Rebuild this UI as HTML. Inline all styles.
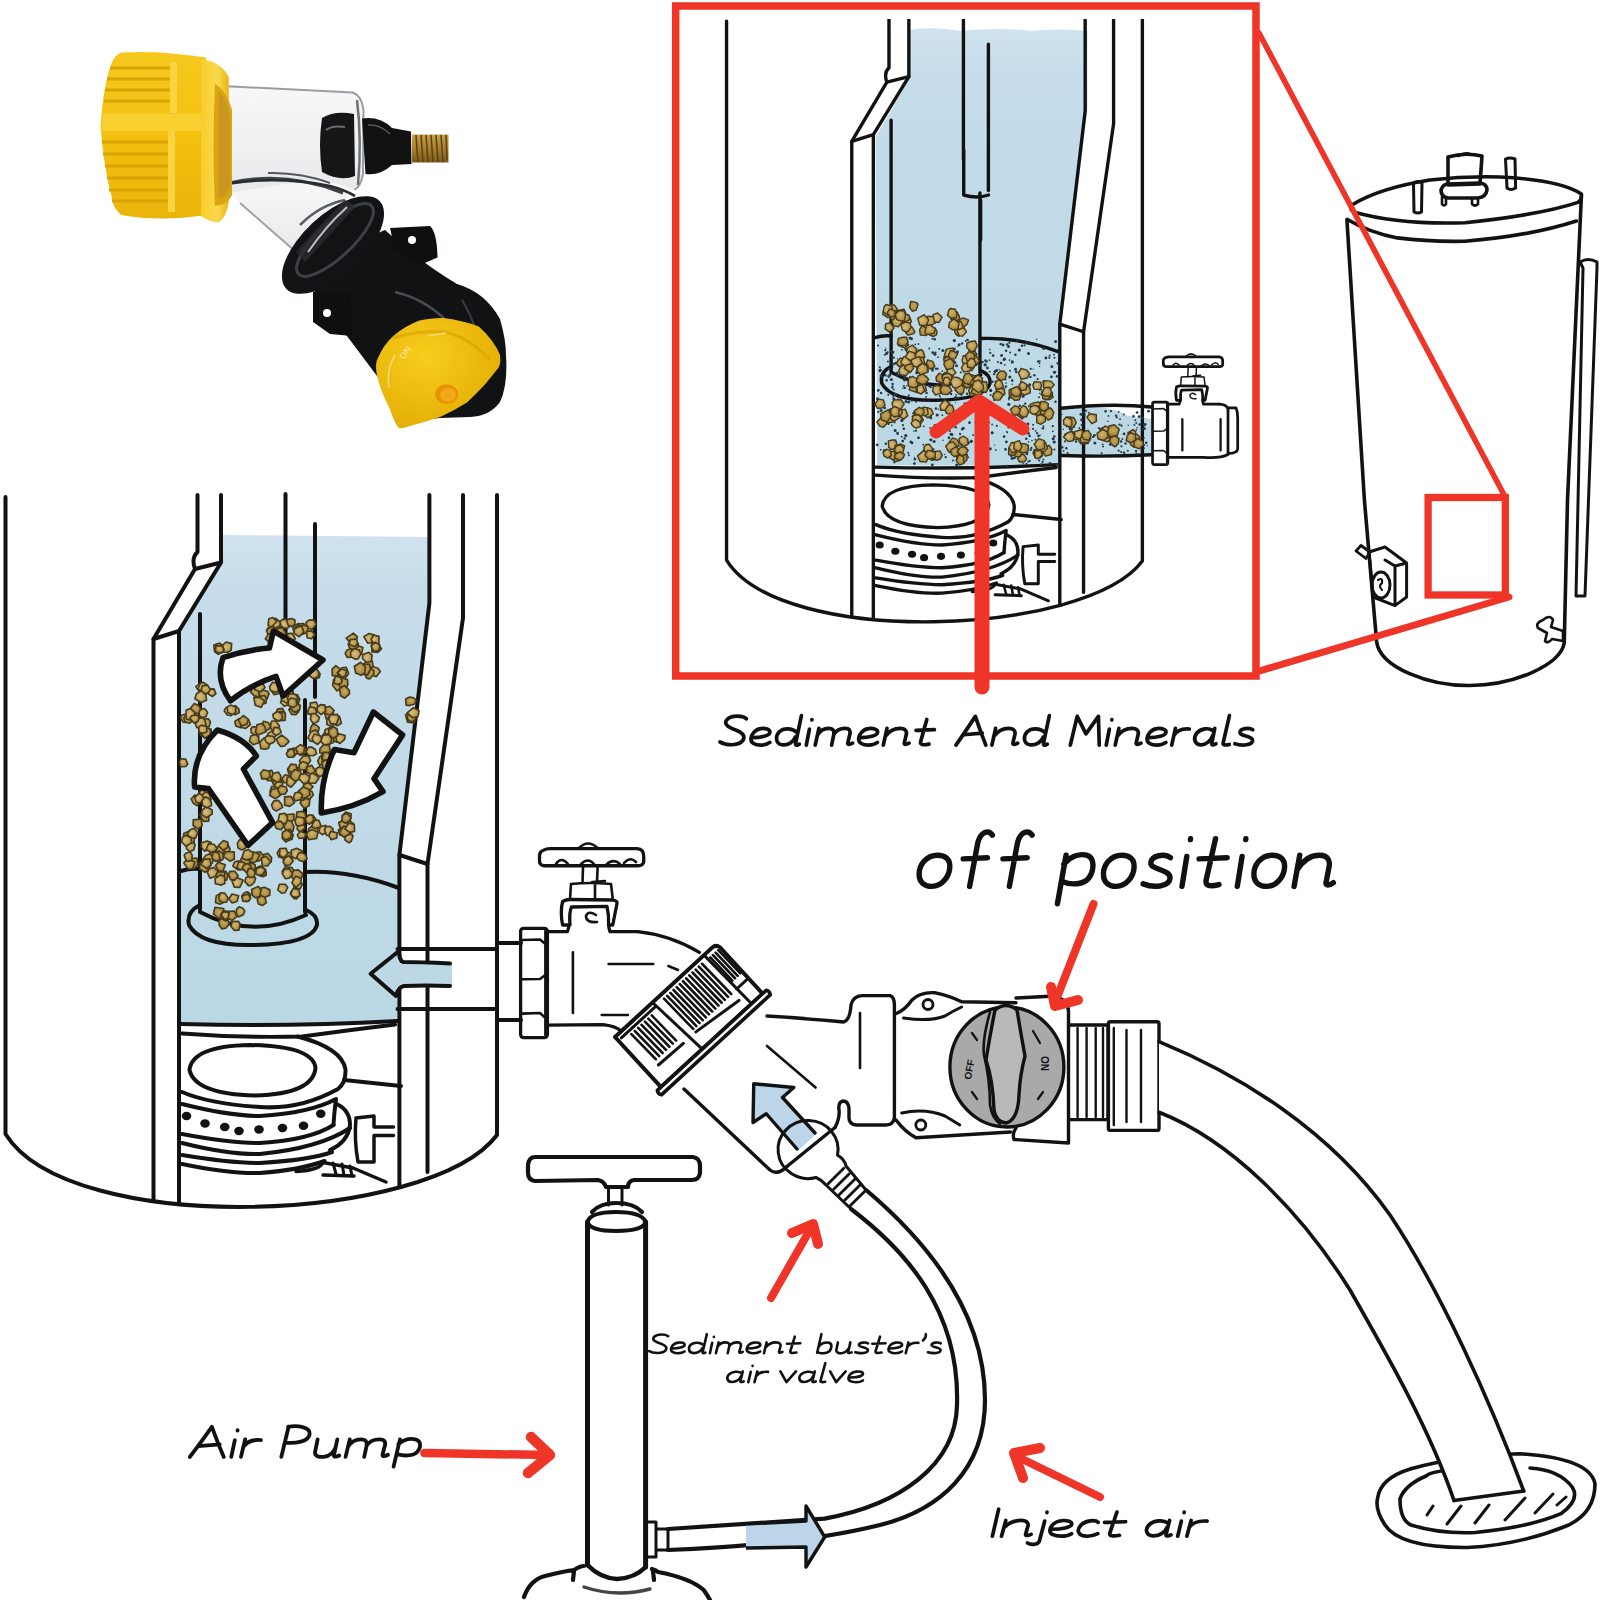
<!DOCTYPE html>
<html><head><meta charset="utf-8"><style>
html,body{margin:0;padding:0;background:#fff;width:1600px;height:1600px;overflow:hidden}
svg{display:block}
text{font-family:"Liberation Sans",sans-serif}
</style></head><body>
<svg width="1600" height="1600" viewBox="0 0 1600 1600">
<rect width="1600" height="1600" fill="#fff"/>
<defs>
<linearGradient id="waterG" x1="0" y1="0" x2="0" y2="1"><stop offset="0" stop-color="#d0e2ef"/><stop offset="0.12" stop-color="#c6dcea"/><stop offset="1" stop-color="#bad8e3"/></linearGradient>
<g id="tank">
<g stroke="#121212" fill="none" stroke-width="4" stroke-linecap="round" stroke-linejoin="round">
<path d="M5.5,497 V1134 C70,1238 430,1224 497,1135 V495"/>
<path d="M197.5,495 V552 Q191,558 195,569 L153.5,639 V1200"/>
<path d="M221,495 V562.5 L179,631 V1203"/>
<path d="M195,569 L221,562.5 M153.5,639 L179,631"/>
<path d="M285.5,494 V660"/>
<path d="M315,524 V697"/>
<path d="M305,700 V912"/>
<path d="M200,614 V910"/>
<path d="M200,905 Q186,912 189,925 Q200,946 253,945 Q312,944 317,925 Q318,915 306,910"/>
<path d="M200,912 Q252,940 306,915"/>
<path d="M181,871 Q190,868 200,869 M306,872 Q350,870 397.5,887.5"/>
<path d="M181,1024 Q290,1027 397.5,1021"/>
<path d="M429.4,495 V603 L399.4,855 V1186"/>
<path d="M463,495 V618 L427.5,864 V1172"/>
<path d="M399.4,855 L427.5,864"/>
<!-- burner -->
<path d="M182,1033.5 Q240,1038 302,1036.5 Q350,1030 395,1024.5" stroke-width="4"/>
<path d="M189.5,1070 Q192,1046 250,1045 Q313,1046 315.5,1068 Q313,1094 255,1095.5 Q195,1094 189.5,1070 Z"/>
<path d="M297.5,1036.5 Q342,1048 345.5,1069.5 Q346,1083 338,1089 Q300,1110 260,1107 Q210,1104 182,1092"/>
<path d="M182,1104 Q230,1116 260,1116 Q310,1113 336,1099 Q334,1115 333.5,1125"/>
<path d="M182,1134 Q230,1143 260,1143 Q310,1140 333.5,1125"/>
<path d="M336.5,1104 Q350,1110 350,1125 Q348,1142 330,1150"/>
<path d="M182,1143 Q230,1155 260,1154 Q320,1148 350,1128"/>
<path d="M182,1155 Q230,1163 260,1163 Q310,1160 332,1152"/>
<path d="M182,1164 Q230,1174 260,1173 Q300,1170 324.5,1161"/>
<path d="M344,1080 L401,1086"/>
<path d="M356,1118 L374,1116 V1127 H393.5 M374,1135.5 H393.5 M374,1135.5 V1162 H358 Q354,1140 356,1118" stroke-width="3.5"/>
<path d="M296,1171.5 Q320,1170 323,1162.5 L353,1168 L386,1182 M323,1175 L354,1176" stroke-width="3.5"/>
<path d="M333,1163 L336,1174 M342,1164 L344,1175 M350,1166 L352,1176" stroke-width="3"/>
</g>
<g fill="#121212">
<ellipse cx="186.5" cy="1116" rx="4.8" ry="4.2"/>
<ellipse cx="205" cy="1123.5" rx="4.8" ry="4.2"/>
<ellipse cx="224.75" cy="1127" rx="4.8" ry="4.2"/>
<ellipse cx="239" cy="1131" rx="4.8" ry="4.2"/>
<ellipse cx="259" cy="1129.5" rx="4.8" ry="4.2"/>
<ellipse cx="282.5" cy="1128" rx="4.8" ry="4.2"/>
<ellipse cx="303.5" cy="1125.75" rx="4.8" ry="4.2"/>
<ellipse cx="320.75" cy="1113.75" rx="4.8" ry="4.2"/>
</g>
</g>
<clipPath id="clipI"><rect x="676" y="19" width="578" height="654"/></clipPath>
<g id="fauctop">
<path d="M547.4,931.7 H567.4 Q569,928 568.75,925 L562.6,925 Q560,912 562.6,901.5 Q566,899.5 570,899.5 L613,900 Q618,901 616.9,904 L612.75,925 L608.6,925 Q609,929 610,931.7 H637.5"/>
<path d="M570,925 Q569,912 571.5,907 L607,906.3 Q609,915 608.6,925"/>
<path d="M570,899 L571,884 Q590,882 611,884 L612.75,899 M595,884 V898" stroke-width="2.6"/>
<path d="M582.5,883 L583,867 M597.6,867 L597,883 M592,882 L605,881" stroke-width="2.6"/>
<path d="M544,850 Q546,848.6 550,848.6 L637,848.6 Q643.7,849 643.7,856 L643.7,862 Q643,865.75 638,865.75 L544,865.75 Q539,865 539.5,860 L539.5,855 Q540,851 544,850 Z"/>
<path d="M556,864 Q561,856 568,864 M581,864 Q588,857 594,864 M606,865 Q613,858 620,864 M624,863 Q630,856 636,862" stroke-width="2.6"/>
<path d="M579,848 Q588,839 597.6,848" stroke-width="2.6"/>
<path d="M596,915 Q588,910 586,916 Q586,923 597,922" stroke-width="2.6"/>
<rect x="520.6" y="928.3" width="26.8" height="109.3" rx="3"/>
<path d="M522,940 L540,939.5 L545.4,944 M522,979.2 L540,979 L545.4,975 M522,1013.6 L540,1013 L545.4,1018 M545.4,931 V1035" stroke-width="2.6"/>
</g>
</defs>

<g id="left">
<!-- blue water -->
<path d="M222,535 L429.4,537 L429.4,603 L399.4,855 L397.5,1021 Q290,1027 181,1024 L180,631 L220,562.5 Z" fill="url(#waterG)"/>
<use href="#tank"/>
<path d="M370.6,973.75 L397.5,950 L400,963 L452,963 L452,986 L400,986 L396,996 Z" fill="#bcd8e4"/>
<g stroke="#121212" fill="none" stroke-width="4" stroke-linecap="round" stroke-linejoin="round">
<path d="M397.5,949 H497 M497,943 H521 M397.5,1009 H497 M497,1020 H521"/>
<path d="M450,963.5 Q420,962 403,962 Q399,960 399,951 L370.6,973.75 L396,996 Q398,987 404,986 Q425,985 450,986" stroke-width="4"/>
</g>
</g>

<g id="sedL"><defs><radialGradient id="bg1" cx="0.45" cy="0.4" r="0.6"><stop offset="0" stop-color="#d2b66e"/><stop offset="1" stop-color="#a8863c"/></radialGradient><radialGradient id="bg2" cx="0.5" cy="0.45" r="0.6"><stop offset="0" stop-color="#c8a85c"/><stop offset="1" stop-color="#9c7c34"/></radialGradient><radialGradient id="bg3" cx="0.4" cy="0.5" r="0.6"><stop offset="0" stop-color="#d8be7c"/><stop offset="1" stop-color="#b09048"/></radialGradient></defs><g stroke="#463a1c" stroke-width="1.6" stroke-linejoin="round">
<polygon points="288.9,619.5 290.9,624.5 288.5,627.6 285.3,628.6 281.1,626.5 279.9,621.1 283.1,619.1" fill="url(#bg3)"/>
<polygon points="272.3,636.4 267.8,633.6 267.5,628.2 271.3,626.3 276.6,629.6 277.2,634.3" fill="url(#bg1)"/>
<polygon points="266.4,630.4 271.2,626.3 274.0,627.0 276.1,632.3 272.6,635.5 267.6,633.5" fill="url(#bg2)"/>
<polygon points="291.7,626.7 288.2,625.2 286.7,621.3 287.6,619.6 291.6,618.4 295.0,620.0 294.9,624.4" fill="url(#bg2)"/>
<polygon points="290.8,642.5 286.7,639.1 287.9,633.6 291.9,633.3 295.5,638.7" fill="url(#bg3)"/>
<polygon points="274.8,634.1 277.5,628.4 282.5,627.4 285.8,633.1 284.3,637.3 279.1,639.6" fill="url(#bg2)"/>
<polygon points="298.3,634.1 293.8,631.0 292.8,626.4 298.5,623.4 303.6,625.9 303.6,632.1" fill="url(#bg3)"/>
<polygon points="273.9,641.4 269.7,642.7 265.3,638.8 268.2,634.0 273.2,633.3 274.9,636.9" fill="url(#bg2)"/>
<polygon points="271.8,619.6 275.9,618.3 280.3,622.2 279.9,626.1 274.8,628.3 271.6,623.7" fill="url(#bg3)"/>
<polygon points="312.3,629.6 307.2,627.9 306.0,622.4 308.9,620.1 313.7,619.9 316.3,624.3" fill="url(#bg1)"/>
<polygon points="302.8,633.5 297.8,630.8 296.2,627.6 299.5,623.9 303.8,623.5 307.3,628.2 306.2,630.6" fill="url(#bg3)"/>
<polygon points="276.8,621.5 271.3,627.3 268.0,625.1 268.9,618.7 273.0,617.6" fill="url(#bg1)"/>
<polygon points="307.6,632.2 302.9,634.2 299.5,630.4 300.0,627.1 303.2,624.8 308.2,626.8" fill="url(#bg2)"/>
<polygon points="301.8,626.4 303.2,630.9 301.2,634.6 295.9,634.5 293.3,629.6 297.4,625.1" fill="url(#bg2)"/>
<polygon points="307.1,637.8 306.5,631.3 311.7,630.9 314.8,634.6 311.5,638.7" fill="url(#bg3)"/>
<polygon points="299.2,636.8 293.9,633.3 294.2,628.7 301.6,625.7 303.8,632.1" fill="url(#bg1)"/>
<polygon points="221.8,645.9 226.1,642.0 231.7,643.5 231.2,650.2 227.6,652.3 222.8,652.2" fill="url(#bg3)"/>
<polygon points="214.5,651.5 213.8,644.9 219.6,643.1 222.2,645.0 223.9,649.4 222.1,652.0 218.4,654.4" fill="url(#bg1)"/>
<polygon points="221.1,653.3 215.6,651.9 215.7,645.9 222.0,645.6 224.1,650.3" fill="url(#bg1)"/>
<polygon points="367.9,669.5 363.5,664.2 368.8,660.0 372.3,660.9 373.5,668.4" fill="url(#bg3)"/>
<polygon points="371.9,651.9 371.6,643.6 377.3,643.0 381.6,648.8 377.7,652.4" fill="url(#bg1)"/>
<polygon points="372.2,655.2 371.3,661.5 366.2,662.3 362.4,658.5 362.9,654.5 368.9,652.3" fill="url(#bg3)"/>
<polygon points="378.0,668.3 380.4,671.4 376.2,676.8 371.8,675.1 369.2,670.2 372.6,666.5" fill="url(#bg3)"/>
<polygon points="367.7,643.2 363.8,636.6 369.1,633.5 374.1,634.8 371.9,642.7" fill="url(#bg3)"/>
<polygon points="366.6,678.1 363.7,672.5 365.1,667.7 369.0,667.1 373.9,670.6 373.9,674.1 369.8,678.9" fill="url(#bg2)"/>
<polygon points="353.1,649.8 356.9,645.2 362.9,647.6 361.6,654.3 355.8,655.1" fill="url(#bg1)"/>
<polygon points="350.8,648.6 354.7,652.1 351.8,657.1 347.1,657.4 345.1,653.3 346.9,650.2" fill="url(#bg2)"/>
<polygon points="349.9,642.4 346.2,638.2 353.4,633.1 357.4,636.9 355.3,643.2" fill="url(#bg2)"/>
<polygon points="353.9,649.9 349.5,648.1 348.1,643.8 354.0,640.6 358.4,643.9 357.8,647.2" fill="url(#bg2)"/>
<polygon points="373.5,635.0 379.0,636.4 379.0,643.3 374.6,644.9 371.0,639.4" fill="url(#bg3)"/>
<polygon points="367.5,675.0 363.9,674.2 359.6,670.1 362.6,664.2 369.6,664.1 370.7,669.0" fill="url(#bg2)"/>
<polygon points="380.0,645.2 378.8,651.0 373.8,651.1 371.0,646.1 375.1,642.1" fill="url(#bg1)"/>
<polygon points="365.4,666.9 364.8,673.0 361.2,675.2 355.6,673.0 354.3,666.2 360.8,662.3" fill="url(#bg2)"/>
<polygon points="350.3,639.6 356.5,639.0 357.8,643.9 354.7,646.8 349.0,644.5" fill="url(#bg1)"/>
<polygon points="359.2,650.1 361.0,653.8 358.2,658.8 355.4,659.4 350.8,656.8 350.4,652.2 354.0,648.6" fill="url(#bg3)"/>
<polygon points="332.1,669.1 335.8,665.6 339.5,668.4 340.4,672.6 336.9,676.3 332.2,675.6" fill="url(#bg2)"/>
<polygon points="343.6,682.2 341.2,688.3 336.9,690.9 332.6,685.2 333.6,679.5 339.2,678.8" fill="url(#bg1)"/>
<polygon points="338.5,683.4 341.3,677.8 347.6,679.6 347.9,684.6 346.3,688.1 340.1,687.0" fill="url(#bg2)"/>
<polygon points="348.7,673.5 344.9,678.8 340.0,677.1 337.1,672.9 341.9,667.8 346.2,667.3" fill="url(#bg1)"/>
<polygon points="344.7,698.2 340.6,695.8 339.5,688.5 344.3,685.4 349.4,690.3 349.5,693.9" fill="url(#bg2)"/>
<polygon points="334.7,677.9 336.2,676.0 340.6,677.6 342.2,681.4 341.0,683.6 336.9,684.6 334.0,683.0" fill="url(#bg1)"/>
<polygon points="345.5,675.5 342.1,677.6 337.7,672.7 341.4,668.9 346.7,670.6" fill="url(#bg1)"/>
<polygon points="319.3,677.8 315.2,678.7 311.6,675.8 312.0,670.3 316.1,669.3 320.2,673.7" fill="url(#bg1)"/>
<polygon points="312.9,668.7 316.1,668.2 318.7,671.8 318.4,676.8 313.4,678.5 309.8,676.2 310.0,672.3" fill="url(#bg3)"/>
<polygon points="199.4,691.7 195.7,686.6 200.5,683.2 204.0,684.5 203.9,689.7" fill="url(#bg3)"/>
<polygon points="212.3,696.5 206.9,693.0 206.8,689.1 214.0,688.9 216.0,693.7" fill="url(#bg3)"/>
<polygon points="200.4,683.2 203.2,682.3 206.9,684.6 206.5,689.1 201.9,691.1 197.7,689.3" fill="url(#bg3)"/>
<polygon points="206.6,700.3 201.2,702.5 194.8,698.8 196.5,693.7 201.8,690.4 205.7,693.3" fill="url(#bg3)"/>
<polygon points="202.3,685.9 207.6,685.1 210.4,689.2 208.6,692.6 204.5,693.9 201.1,690.2" fill="url(#bg1)"/>
<polygon points="186.3,722.4 183.0,722.2 180.5,717.3 182.0,715.1 187.3,713.7 189.9,717.5" fill="url(#bg3)"/>
<polygon points="204.6,708.5 207.7,712.2 205.9,716.8 202.3,717.7 199.5,715.8 198.5,711.4 201.7,709.0" fill="url(#bg3)"/>
<polygon points="204.6,728.1 201.3,725.3 200.9,722.6 204.2,719.3 208.1,718.6 210.5,721.8 209.3,726.4" fill="url(#bg1)"/>
<polygon points="198.8,705.5 200.5,708.6 199.0,713.3 194.4,713.4 189.9,711.3 191.0,707.4 194.2,703.6" fill="url(#bg2)"/>
<polygon points="200.2,730.9 204.6,726.9 211.0,728.9 211.4,732.3 207.9,737.0 205.8,738.3 200.4,735.1" fill="url(#bg2)"/>
<polygon points="183.7,718.1 186.1,715.0 190.4,714.5 193.7,718.1 192.2,721.0 189.5,723.3 185.2,722.1" fill="url(#bg1)"/>
<polygon points="195.4,724.1 198.5,718.8 202.0,717.4 205.1,720.1 206.2,726.9 202.6,728.1 196.9,727.6" fill="url(#bg3)"/>
<polygon points="186.2,710.1 190.4,708.4 194.4,712.1 194.9,716.6 191.9,720.3 186.5,719.2 185.9,716.2" fill="url(#bg3)"/>
<polygon points="210.4,729.8 210.5,734.7 204.7,738.3 200.1,731.6 206.2,726.9" fill="url(#bg1)"/>
<polygon points="199.1,732.2 198.8,726.8 201.2,725.1 206.8,726.5 206.8,732.0 203.3,733.2" fill="url(#bg3)"/>
<polygon points="198.0,721.4 194.2,723.1 189.7,718.2 191.7,715.8 196.6,714.9 199.2,717.2" fill="url(#bg1)"/>
<polygon points="233.2,712.1 231.2,715.6 227.2,715.0 224.1,710.8 225.6,708.1 230.6,705.9 232.5,707.6" fill="url(#bg3)"/>
<polygon points="235.8,726.0 234.8,721.4 239.3,718.4 243.9,720.4 244.1,726.1 240.8,727.7" fill="url(#bg2)"/>
<polygon points="241.1,727.2 240.0,720.3 243.4,718.3 248.6,719.9 250.5,724.7 245.4,728.5" fill="url(#bg3)"/>
<polygon points="239.4,712.6 235.3,714.9 229.6,711.7 230.4,708.3 235.4,705.6 238.9,709.1" fill="url(#bg2)"/>
<polygon points="232.5,714.6 227.6,712.5 227.2,706.9 230.7,705.1 235.7,707.1 235.7,712.4" fill="url(#bg3)"/>
<polygon points="238.4,720.0 243.3,715.5 248.5,719.3 246.9,724.2 241.6,726.1" fill="url(#bg2)"/>
<polygon points="277.4,709.1 282.5,708.4 284.5,712.1 283.1,716.0 279.1,717.3 276.1,713.2" fill="url(#bg2)"/>
<polygon points="285.4,713.3 285.1,720.4 279.4,720.7 275.7,717.8 277.6,712.0 282.5,711.6" fill="url(#bg2)"/>
<polygon points="284.3,706.3 280.5,702.5 283.1,697.8 288.4,699.4 289.2,704.6" fill="url(#bg3)"/>
<polygon points="281.5,695.8 286.2,691.0 291.7,694.2 290.9,700.1 286.8,703.1 281.2,699.9" fill="url(#bg3)"/>
<polygon points="299.6,699.0 298.3,704.0 291.6,703.7 290.4,697.1 297.4,694.5" fill="url(#bg1)"/>
<polygon points="288.8,709.6 292.5,705.9 297.4,706.3 298.8,711.8 295.9,714.8 291.6,714.4" fill="url(#bg1)"/>
<polygon points="255.3,685.3 261.0,689.0 262.5,693.4 258.0,696.8 254.3,695.9 250.8,692.5 251.8,688.3" fill="url(#bg1)"/>
<polygon points="284.6,687.0 289.8,686.1 293.0,690.8 293.2,694.3 289.0,696.7 283.4,695.6 281.7,690.0" fill="url(#bg1)"/>
<polygon points="291.3,704.9 296.9,703.7 299.8,705.5 299.6,709.9 295.8,712.4 291.1,709.5" fill="url(#bg1)"/>
<polygon points="273.9,694.6 271.9,691.5 271.9,687.1 278.0,687.4 281.0,690.9 277.8,694.0" fill="url(#bg2)"/>
<polygon points="290.4,707.3 292.0,704.5 295.5,702.3 300.4,705.5 299.4,709.6 296.1,712.0 292.9,711.6" fill="url(#bg2)"/>
<polygon points="299.8,699.1 296.7,704.5 291.5,705.5 288.2,701.6 290.1,696.4 294.3,695.6" fill="url(#bg2)"/>
<polygon points="290.0,698.0 284.0,696.0 283.9,690.4 289.3,688.5 292.2,690.9 293.3,695.0" fill="url(#bg1)"/>
<polygon points="261.2,689.8 267.5,691.3 269.1,693.7 266.9,699.1 261.6,699.6 258.4,692.5" fill="url(#bg2)"/>
<polygon points="261.0,704.6 258.2,701.6 258.6,696.9 264.3,695.2 266.3,698.1 266.0,703.2" fill="url(#bg2)"/>
<polygon points="287.4,698.9 288.9,694.2 294.2,693.7 297.6,696.7 297.0,701.3 290.4,702.4" fill="url(#bg3)"/>
<polygon points="272.8,714.3 277.2,711.5 282.0,713.7 282.4,718.6 278.7,721.3 273.5,718.3" fill="url(#bg3)"/>
<polygon points="288.6,700.1 291.3,697.9 296.1,699.3 296.8,705.4 293.1,707.6 288.1,705.6" fill="url(#bg1)"/>
<polygon points="272.6,682.3 278.5,683.2 279.9,689.1 275.9,692.5 270.3,690.5 269.5,686.6" fill="url(#bg3)"/>
<polygon points="255.9,681.7 261.5,681.2 265.1,687.7 260.5,691.8 254.6,689.8" fill="url(#bg3)"/>
<polygon points="255.2,705.3 253.8,697.6 259.9,697.3 264.5,700.9 261.3,707.5" fill="url(#bg1)"/>
<polygon points="333.4,712.6 332.2,717.9 326.1,718.9 324.6,712.9 327.5,708.8" fill="url(#bg2)"/>
<polygon points="332.8,733.5 330.8,736.9 327.4,737.2 324.7,732.5 325.1,729.7 330.0,727.5 331.7,729.3" fill="url(#bg1)"/>
<polygon points="329.9,706.2 334.3,710.6 330.7,715.2 324.6,713.2 325.1,707.6" fill="url(#bg2)"/>
<polygon points="341.4,723.4 337.4,725.7 332.3,722.7 332.9,717.2 339.5,716.2" fill="url(#bg1)"/>
<polygon points="331.5,739.7 331.3,737.1 333.0,732.4 338.3,733.4 340.7,735.4 340.3,740.4 336.4,742.1" fill="url(#bg1)"/>
<polygon points="326.9,719.4 330.7,715.2 334.3,718.0 335.0,723.9 331.7,726.4 326.8,724.5" fill="url(#bg3)"/>
<polygon points="338.9,717.6 336.3,724.4 330.7,723.6 328.8,719.1 330.2,714.7 337.4,714.4" fill="url(#bg3)"/>
<polygon points="323.6,743.6 320.5,738.2 324.2,733.2 330.0,735.5 330.6,741.1" fill="url(#bg2)"/>
<polygon points="345.2,735.6 344.6,739.3 340.0,743.5 336.7,741.5 335.5,735.6 339.9,734.1" fill="url(#bg3)"/>
<polygon points="328.8,744.3 324.4,739.8 323.2,736.0 329.4,733.1 333.8,735.3 333.4,742.6" fill="url(#bg3)"/>
<polygon points="316.2,702.0 318.9,708.3 313.9,711.4 310.4,708.3 310.2,703.1" fill="url(#bg3)"/>
<polygon points="314.9,707.9 317.0,712.4 313.0,714.7 308.0,714.1 307.9,710.4 309.7,706.7" fill="url(#bg1)"/>
<polygon points="337.3,729.0 337.6,735.9 333.0,738.2 328.8,734.8 328.7,729.7 333.5,726.8" fill="url(#bg2)"/>
<polygon points="314.7,734.1 309.8,731.7 310.8,727.2 312.8,724.1 316.7,725.2 319.3,727.8 317.9,733.0" fill="url(#bg2)"/>
<polygon points="310.3,741.1 307.9,737.7 310.9,732.0 315.7,729.8 318.6,733.5 319.9,738.6 316.1,742.0" fill="url(#bg3)"/>
<polygon points="314.0,742.3 312.0,738.5 314.2,734.0 320.7,736.1 321.9,739.9 317.7,744.5" fill="url(#bg3)"/>
<polygon points="330.1,743.9 324.6,745.1 320.7,741.6 323.0,735.1 329.1,734.7 331.7,738.8" fill="url(#bg3)"/>
<polygon points="310.4,719.2 311.3,713.8 315.5,713.6 319.4,717.3 318.3,721.3 313.3,723.9" fill="url(#bg3)"/>
<polygon points="325.7,711.0 321.0,714.7 317.6,711.6 316.9,707.9 320.5,704.6 325.0,705.1" fill="url(#bg3)"/>
<polygon points="272.1,730.3 270.0,727.1 271.5,721.3 275.6,720.7 279.5,726.0 278.4,729.8" fill="url(#bg1)"/>
<polygon points="263.2,731.2 261.8,727.2 263.4,721.3 268.2,722.6 270.8,726.5 268.6,729.7" fill="url(#bg2)"/>
<polygon points="272.4,730.9 275.8,735.3 272.8,740.2 267.5,738.1 267.9,733.4" fill="url(#bg3)"/>
<polygon points="287.0,739.1 289.0,741.6 284.7,746.0 280.7,746.4 277.9,743.1 276.4,739.1 281.6,735.0" fill="url(#bg1)"/>
<polygon points="259.4,730.4 259.5,733.6 255.1,735.7 251.3,732.9 250.8,728.9 252.5,726.8 258.8,727.0" fill="url(#bg1)"/>
<polygon points="276.4,735.6 272.6,732.7 274.2,727.2 279.6,728.1 281.2,732.3" fill="url(#bg3)"/>
<polygon points="259.7,742.1 264.4,737.7 268.5,739.4 270.6,742.5 268.5,748.3 265.4,749.3 260.8,748.6" fill="url(#bg1)"/>
<polygon points="257.0,724.7 261.5,723.4 264.9,726.3 266.0,731.8 258.4,735.0 255.3,732.2" fill="url(#bg2)"/>
<polygon points="264.7,738.6 267.0,735.6 272.9,736.2 275.3,739.2 273.8,742.5 269.0,744.1 266.0,741.8" fill="url(#bg3)"/>
<polygon points="250.8,736.0 255.4,734.5 258.8,737.0 258.9,742.7 253.2,744.8 249.4,741.1" fill="url(#bg1)"/>
<polygon points="297.4,772.8 294.3,774.8 288.7,773.8 287.6,768.8 291.4,764.2 298.1,767.7" fill="url(#bg1)"/>
<polygon points="319.7,752.8 319.9,748.8 323.3,744.7 329.2,744.9 330.3,751.1 327.2,754.4" fill="url(#bg2)"/>
<polygon points="287.5,770.1 290.6,764.3 296.0,764.6 297.2,769.8 293.1,773.2" fill="url(#bg2)"/>
<polygon points="310.6,760.6 307.8,765.0 301.1,764.7 299.4,760.7 303.5,755.9 308.9,755.9" fill="url(#bg1)"/>
<polygon points="296.5,752.3 297.7,748.4 301.6,745.5 306.1,748.7 306.3,753.2 300.6,755.4" fill="url(#bg2)"/>
<polygon points="304.7,746.8 303.8,752.9 299.7,754.5 296.3,753.3 296.1,747.7 300.5,744.7" fill="url(#bg1)"/>
<polygon points="287.9,749.7 294.1,747.9 297.6,751.9 293.9,756.8 287.8,755.6" fill="url(#bg3)"/>
<polygon points="302.7,761.6 307.6,763.4 307.6,768.8 304.3,770.1 299.4,769.7 299.1,764.7" fill="url(#bg1)"/>
<polygon points="316.6,753.9 313.2,755.7 308.8,755.5 306.0,752.0 308.5,747.1 311.5,747.0 315.4,749.5" fill="url(#bg3)"/>
<polygon points="286.3,753.8 289.3,749.4 293.5,749.2 294.8,754.3 292.8,757.2 288.0,757.2" fill="url(#bg2)"/>
<polygon points="325.8,763.9 319.5,765.1 317.7,761.2 319.7,756.8 323.4,755.9 327.0,760.0" fill="url(#bg1)"/>
<polygon points="306.9,772.3 306.4,767.3 311.9,765.3 315.3,771.0 312.1,775.1" fill="url(#bg2)"/>
<polygon points="328.5,753.6 329.9,759.4 326.0,762.3 322.2,760.9 321.1,755.4 325.2,752.7" fill="url(#bg3)"/>
<polygon points="327.9,752.5 331.9,756.6 329.8,760.8 325.6,761.4 322.1,758.9 323.5,752.2" fill="url(#bg2)"/>
<polygon points="323.8,774.8 319.6,776.7 315.9,773.3 316.0,768.7 319.4,766.8 323.8,768.5 324.3,772.3" fill="url(#bg3)"/>
<polygon points="323.2,768.6 321.9,762.5 325.7,759.9 330.7,760.8 331.7,766.4 328.3,770.1" fill="url(#bg1)"/>
<polygon points="187.8,764.0 185.9,766.5 180.6,766.8 179.3,762.3 180.6,758.7 185.7,759.1" fill="url(#bg1)"/>
<polygon points="274.4,780.5 267.4,780.6 265.2,776.1 266.1,771.2 271.6,770.2 274.6,775.8" fill="url(#bg2)"/>
<polygon points="271.7,781.4 272.0,776.6 276.6,775.3 280.1,778.1 279.9,782.8 275.1,783.7" fill="url(#bg1)"/>
<polygon points="300.0,803.1 303.4,797.3 309.9,799.4 309.1,805.9 304.2,808.4" fill="url(#bg2)"/>
<polygon points="280.9,778.4 281.8,782.3 276.9,786.2 272.9,783.7 273.8,778.7" fill="url(#bg1)"/>
<polygon points="281.8,779.2 285.0,774.7 289.8,775.8 289.8,783.0 284.2,782.8" fill="url(#bg1)"/>
<polygon points="278.5,800.4 281.4,803.9 282.7,807.4 276.3,811.1 273.0,809.1 271.5,805.0 273.8,800.9" fill="url(#bg1)"/>
<polygon points="292.1,776.6 296.1,781.6 291.1,787.2 286.7,784.8 287.1,777.3" fill="url(#bg1)"/>
<polygon points="276.0,789.6 274.0,786.2 277.2,781.4 282.8,782.5 281.6,788.8" fill="url(#bg1)"/>
<polygon points="280.5,785.6 286.2,787.0 287.3,790.8 285.0,794.2 279.4,794.4 277.6,789.3" fill="url(#bg2)"/>
<polygon points="271.7,786.2 276.7,787.3 277.5,792.4 274.0,795.2 269.9,792.0" fill="url(#bg2)"/>
<polygon points="271.3,778.2 273.4,773.4 278.4,772.1 281.0,776.1 280.2,781.1 276.7,782.5" fill="url(#bg1)"/>
<polygon points="267.0,778.9 261.8,778.9 260.4,773.2 263.5,769.7 269.4,771.3 270.4,776.9" fill="url(#bg2)"/>
<polygon points="275.4,798.8 269.6,795.2 271.5,789.7 277.1,788.1 280.4,795.4" fill="url(#bg2)"/>
<polygon points="297.3,798.4 296.6,793.8 299.0,790.4 302.8,790.5 306.0,796.1 304.1,799.9 300.4,800.4" fill="url(#bg1)"/>
<polygon points="303.6,789.3 303.5,785.0 307.5,782.0 313.1,786.7 308.7,791.2" fill="url(#bg2)"/>
<polygon points="317.0,775.6 318.9,778.2 315.6,783.1 309.2,783.2 307.3,777.3 312.1,773.0" fill="url(#bg3)"/>
<polygon points="298.6,779.7 295.0,781.0 291.3,778.3 290.6,773.8 294.7,769.5 300.3,771.3 301.4,773.8" fill="url(#bg2)"/>
<polygon points="304.7,789.4 311.9,791.3 313.4,794.9 309.9,799.0 304.6,798.5 303.1,792.4" fill="url(#bg1)"/>
<polygon points="307.3,782.9 303.4,783.5 298.7,778.6 300.3,774.5 305.7,773.4 310.1,777.4" fill="url(#bg3)"/>
<polygon points="291.0,796.4 294.5,802.8 289.7,806.4 284.6,805.2 284.5,796.8" fill="url(#bg2)"/>
<polygon points="305.7,797.9 301.5,797.7 298.8,791.1 303.2,786.7 309.1,789.6 310.0,794.7" fill="url(#bg2)"/>
<polygon points="295.1,792.8 299.2,792.2 302.6,794.7 300.8,799.5 295.5,801.1 293.2,798.0" fill="url(#bg1)"/>
<polygon points="201.3,801.1 197.2,805.7 193.3,803.4 191.1,799.0 194.7,795.0 200.0,797.8" fill="url(#bg2)"/>
<polygon points="202.3,825.5 198.2,829.2 193.1,825.5 193.2,819.9 201.0,819.0" fill="url(#bg2)"/>
<polygon points="209.1,813.6 208.7,821.1 203.5,821.4 199.6,814.3 205.4,811.1" fill="url(#bg2)"/>
<polygon points="200.3,801.5 197.5,795.3 201.0,790.0 205.4,791.2 208.5,795.3 205.6,801.6" fill="url(#bg3)"/>
<polygon points="202.1,810.1 206.1,806.6 212.2,810.0 212.2,814.0 206.4,817.6 201.4,814.4" fill="url(#bg3)"/>
<polygon points="209.0,793.3 211.1,799.3 208.5,801.8 203.2,803.6 201.1,800.1 201.3,796.0 205.6,791.7" fill="url(#bg1)"/>
<polygon points="203.8,799.0 200.3,802.7 196.4,802.5 194.7,797.7 198.9,793.3 202.3,795.2" fill="url(#bg3)"/>
<polygon points="211.5,805.6 206.9,807.8 202.6,805.5 202.0,800.7 205.1,796.7 208.8,798.4 211.3,802.3" fill="url(#bg3)"/>
<polygon points="344.9,828.7 344.9,822.1 348.9,820.3 353.1,823.4 353.2,829.3 347.8,831.0" fill="url(#bg2)"/>
<polygon points="317.7,832.8 313.9,836.5 308.5,833.3 308.6,828.9 312.7,825.6 317.6,826.6" fill="url(#bg3)"/>
<polygon points="319.0,832.1 320.0,826.7 325.9,825.4 327.6,831.8 322.4,834.7" fill="url(#bg3)"/>
<polygon points="294.0,819.7 288.0,824.2 284.5,819.4 286.7,814.5 294.0,814.0" fill="url(#bg2)"/>
<polygon points="305.1,827.9 300.0,832.3 297.1,828.9 297.7,824.8 303.8,824.1" fill="url(#bg1)"/>
<polygon points="284.9,813.2 287.6,817.0 287.0,823.0 282.6,823.9 277.9,821.8 279.5,814.1" fill="url(#bg3)"/>
<polygon points="329.7,826.2 333.1,828.9 332.8,831.3 329.5,835.3 326.7,835.5 324.4,829.8 326.0,826.8" fill="url(#bg3)"/>
<polygon points="318.9,820.2 321.2,826.4 314.9,828.7 311.5,826.5 314.3,820.3" fill="url(#bg1)"/>
<polygon points="282.3,838.5 283.5,832.9 288.8,831.9 292.6,835.2 291.8,839.1 285.7,841.9" fill="url(#bg3)"/>
<polygon points="347.6,834.1 352.2,834.4 353.0,836.4 351.3,841.3 348.9,842.8 344.8,839.8 345.5,836.2" fill="url(#bg1)"/>
<polygon points="312.3,829.6 318.1,832.4 316.5,838.5 308.7,839.7 306.5,834.5 308.0,831.5" fill="url(#bg1)"/>
<polygon points="312.2,823.1 308.0,821.7 307.0,815.5 312.9,815.3 316.0,819.4" fill="url(#bg1)"/>
<polygon points="345.7,811.9 351.3,814.1 350.4,820.4 345.7,822.5 342.0,816.3" fill="url(#bg3)"/>
<polygon points="287.6,820.4 291.1,820.7 294.1,826.8 292.9,831.4 285.5,829.7 283.7,826.6" fill="url(#bg2)"/>
<polygon points="283.5,834.6 285.5,831.2 289.9,829.2 293.2,835.0 291.9,839.4 285.0,838.6" fill="url(#bg1)"/>
<polygon points="347.3,829.3 347.1,833.6 340.0,835.2 338.3,830.1 342.5,826.5" fill="url(#bg3)"/>
<polygon points="343.7,829.4 340.0,827.3 338.7,822.5 343.8,820.0 348.0,823.3 346.8,828.6" fill="url(#bg2)"/>
<polygon points="284.1,825.8 281.2,829.7 276.2,828.4 274.6,824.2 277.0,821.4 281.1,821.3" fill="url(#bg2)"/>
<polygon points="296.8,812.0 302.2,811.2 305.1,812.7 305.9,817.4 302.7,820.6 297.1,819.8 296.3,816.7" fill="url(#bg2)"/>
<polygon points="300.6,831.3 306.1,833.7 304.5,837.9 299.1,838.5 297.3,835.0" fill="url(#bg1)"/>
<polygon points="330.6,831.3 337.2,832.9 336.8,837.9 331.3,839.8 328.8,835.7" fill="url(#bg1)"/>
<polygon points="351.0,833.0 343.8,837.3 339.0,832.6 343.9,826.1 349.7,828.6" fill="url(#bg2)"/>
<polygon points="296.9,816.8 303.6,817.8 304.5,821.3 303.6,824.8 298.6,826.2 296.1,825.0 294.7,820.6" fill="url(#bg1)"/>
<polygon points="354.3,824.4 354.6,831.4 349.7,832.4 344.9,829.0 348.8,823.1" fill="url(#bg3)"/>
<polygon points="313.7,820.3 309.2,824.3 306.2,822.2 305.4,818.1 309.6,814.7 312.9,815.6" fill="url(#bg1)"/>
<polygon points="285.4,840.2 282.2,836.9 282.4,832.3 287.0,829.9 291.5,833.3 290.7,837.5" fill="url(#bg2)"/>
<polygon points="345.1,823.2 341.7,820.9 342.5,815.3 347.1,813.0 350.8,817.8 349.9,820.5" fill="url(#bg2)"/>
<polygon points="183.9,838.0 183.6,833.5 188.9,831.3 193.7,834.1 191.1,839.6 188.4,840.7" fill="url(#bg1)"/>
<polygon points="187.9,862.4 190.1,858.5 197.0,858.0 197.9,864.4 194.5,868.8 190.8,867.8" fill="url(#bg2)"/>
<polygon points="192.6,869.0 188.1,868.9 183.8,863.1 187.1,859.0 194.9,862.0" fill="url(#bg1)"/>
<polygon points="185.7,853.3 190.1,851.7 192.2,855.1 192.0,859.9 188.6,861.5 186.1,860.4 184.2,855.5" fill="url(#bg1)"/>
<polygon points="186.4,848.7 186.6,842.1 192.5,841.1 195.1,844.7 193.8,850.0 189.9,851.6" fill="url(#bg3)"/>
<polygon points="186.6,835.4 190.8,835.2 194.3,837.8 194.2,842.2 189.3,843.5 186.8,843.0 185.1,838.3" fill="url(#bg1)"/>
<polygon points="194.1,828.2 197.8,832.6 195.6,838.1 191.4,837.9 187.1,834.7 189.8,830.0" fill="url(#bg3)"/>
<polygon points="182.6,837.0 185.5,835.2 191.0,837.5 191.8,842.8 185.8,846.2 181.4,841.6" fill="url(#bg3)"/>
<polygon points="271.2,861.9 265.2,864.7 262.8,863.5 261.4,858.8 262.6,854.9 267.7,853.2 271.6,857.6" fill="url(#bg2)"/>
<polygon points="218.1,875.5 220.6,871.3 226.0,871.3 228.0,875.7 226.5,880.2 219.8,879.4" fill="url(#bg2)"/>
<polygon points="219.8,851.1 217.6,856.3 213.5,857.2 209.9,855.1 211.6,850.0 217.0,848.0" fill="url(#bg1)"/>
<polygon points="266.1,871.6 266.2,875.2 262.6,876.7 256.9,874.6 256.5,871.9 259.0,867.8 263.9,868.5" fill="url(#bg1)"/>
<polygon points="264.7,896.2 266.4,902.9 262.6,905.4 258.3,903.9 257.1,899.0 261.2,895.6" fill="url(#bg2)"/>
<polygon points="211.8,850.6 215.9,850.9 217.6,856.6 213.1,859.1 208.2,855.4" fill="url(#bg2)"/>
<polygon points="223.0,846.2 227.9,844.4 230.1,849.2 228.1,853.6 224.2,853.7 221.0,850.9" fill="url(#bg1)"/>
<polygon points="217.8,871.9 225.1,872.0 223.9,879.9 220.1,882.7 215.7,875.2" fill="url(#bg2)"/>
<polygon points="246.9,867.1 250.9,862.8 255.1,864.5 255.4,869.8 249.1,872.0" fill="url(#bg2)"/>
<polygon points="239.3,860.9 241.9,864.1 240.3,869.6 237.4,869.7 232.8,866.1 234.7,861.8" fill="url(#bg1)"/>
<polygon points="212.5,862.8 208.1,866.1 203.9,862.7 202.2,860.1 205.8,855.2 209.6,853.9 213.6,856.8" fill="url(#bg1)"/>
<polygon points="207.3,872.4 209.0,868.9 213.9,867.3 218.0,871.7 214.8,876.6 210.1,878.3" fill="url(#bg3)"/>
<polygon points="262.9,858.9 257.8,861.3 253.8,856.9 256.3,852.3 260.4,851.8 263.5,855.8" fill="url(#bg2)"/>
<polygon points="218.6,870.9 215.5,865.6 218.2,862.2 225.3,864.8 223.1,871.1" fill="url(#bg2)"/>
<polygon points="264.5,887.2 269.9,889.7 269.8,895.2 264.6,897.4 259.1,894.3 261.0,888.1" fill="url(#bg2)"/>
<polygon points="201.1,843.0 207.2,840.9 211.2,842.6 208.6,849.7 204.6,851.3 201.4,847.6" fill="url(#bg3)"/>
<polygon points="256.8,873.7 255.6,868.1 260.6,865.9 265.6,869.6 265.2,872.8 261.3,876.1" fill="url(#bg2)"/>
<polygon points="205.1,872.4 199.5,868.7 199.9,862.7 204.2,861.1 210.5,863.8 209.0,869.1" fill="url(#bg1)"/>
<polygon points="251.7,889.5 258.1,886.4 261.0,889.6 259.8,896.4 255.1,897.7 252.0,895.1" fill="url(#bg2)"/>
<polygon points="224.5,849.7 222.9,854.6 217.9,854.6 216.4,851.6 216.8,847.0 222.2,846.3" fill="url(#bg1)"/>
<polygon points="243.3,880.2 239.8,887.4 234.4,887.3 232.0,881.2 236.4,877.4" fill="url(#bg3)"/>
<polygon points="251.0,875.1 255.6,878.1 254.5,882.2 251.1,885.5 248.4,885.6 244.9,881.6 246.0,877.4" fill="url(#bg1)"/>
<polygon points="229.9,871.4 234.9,871.2 238.3,876.0 234.7,880.1 230.5,879.6 228.3,874.4" fill="url(#bg2)"/>
<polygon points="247.8,858.4 250.7,851.9 255.2,852.4 259.9,854.8 256.3,861.4 252.3,862.9" fill="url(#bg2)"/>
<polygon points="246.7,865.5 240.5,863.7 241.0,858.7 247.4,857.1 250.2,862.1" fill="url(#bg2)"/>
<polygon points="214.9,878.6 220.8,874.6 224.7,877.0 224.9,883.5 221.4,885.1 215.4,883.8" fill="url(#bg3)"/>
<polygon points="208.7,843.6 214.3,844.5 217.4,848.9 212.1,852.8 206.0,849.5" fill="url(#bg1)"/>
<polygon points="242.6,862.0 246.5,864.2 243.9,869.4 239.8,869.9 236.9,867.3 238.8,861.8" fill="url(#bg1)"/>
<polygon points="237.4,843.1 239.4,839.8 245.9,840.9 246.8,844.5 245.3,848.6 241.3,849.9 238.0,848.0" fill="url(#bg1)"/>
<polygon points="238.7,895.8 237.1,901.6 232.1,902.9 228.8,899.0 232.0,894.0" fill="url(#bg1)"/>
<polygon points="256.5,868.7 261.1,866.8 265.4,869.5 263.1,874.2 259.0,875.6 255.7,873.6" fill="url(#bg1)"/>
<polygon points="224.1,894.6 225.0,901.5 219.9,904.2 215.4,902.4 216.3,895.6 220.7,893.1" fill="url(#bg1)"/>
<polygon points="227.9,842.3 227.8,847.5 223.0,850.4 218.3,845.5 223.4,840.5" fill="url(#bg2)"/>
<polygon points="243.6,865.2 247.4,863.6 251.1,865.7 250.3,870.7 246.1,872.4 242.2,868.1" fill="url(#bg2)"/>
<polygon points="241.8,895.9 244.2,892.7 247.8,891.9 250.2,894.2 250.1,899.3 246.6,901.7 243.0,899.5" fill="url(#bg3)"/>
<polygon points="211.2,865.1 206.8,868.5 200.9,864.7 203.9,859.4 209.8,858.8" fill="url(#bg1)"/>
<polygon points="244.1,851.0 248.6,849.6 253.2,852.8 252.2,858.5 245.8,860.1 241.8,857.8" fill="url(#bg1)"/>
<polygon points="252.5,868.4 255.1,871.9 254.4,876.7 249.7,877.8 247.0,874.1 248.2,868.6" fill="url(#bg2)"/>
<polygon points="262.3,865.7 261.2,858.2 265.8,856.3 270.7,861.5 267.6,866.0" fill="url(#bg1)"/>
<polygon points="223.2,859.0 220.3,861.1 214.8,860.7 213.4,853.6 219.4,850.9 223.3,854.4" fill="url(#bg1)"/>
<polygon points="224.6,893.0 228.1,897.9 226.7,902.0 223.3,902.5 219.5,900.7 218.6,897.2 220.7,892.9" fill="url(#bg1)"/>
<polygon points="212.0,858.5 212.9,851.9 218.6,852.8 220.2,859.2 216.0,861.6" fill="url(#bg2)"/>
<polygon points="250.7,898.0 248.5,901.4 242.7,901.1 242.0,896.0 247.9,894.0" fill="url(#bg2)"/>
<polygon points="223.3,856.7 225.6,851.7 234.2,851.8 234.4,859.0 230.1,861.2" fill="url(#bg2)"/>
<polygon points="279.4,849.4 285.7,850.3 287.3,853.0 284.3,857.9 279.1,857.3 277.1,853.0" fill="url(#bg3)"/>
<polygon points="286.4,877.3 282.1,871.8 285.3,866.8 292.0,867.6 294.3,871.2 292.3,876.7" fill="url(#bg1)"/>
<polygon points="302.9,873.8 301.6,878.1 298.0,880.0 293.1,879.2 290.5,874.3 294.3,870.2 298.4,869.9" fill="url(#bg2)"/>
<polygon points="291.0,852.7 292.4,859.3 289.3,861.6 283.5,860.2 281.9,854.2 284.3,851.8" fill="url(#bg2)"/>
<polygon points="302.6,851.3 301.5,855.7 295.6,858.8 291.4,856.1 291.2,850.2 296.7,848.3" fill="url(#bg3)"/>
<polygon points="289.3,855.8 293.3,860.9 290.0,865.0 285.0,865.4 283.1,862.0 285.2,857.4" fill="url(#bg1)"/>
<polygon points="283.9,857.8 279.6,855.5 279.8,848.5 286.0,848.3 288.0,853.6" fill="url(#bg3)"/>
<polygon points="285.3,878.6 282.2,873.6 284.2,869.4 289.4,868.8 292.7,874.0 289.0,878.2" fill="url(#bg3)"/>
<polygon points="303.2,861.7 299.5,860.6 296.6,857.4 298.6,853.1 302.1,852.4 305.7,855.1 307.1,858.9" fill="url(#bg1)"/>
<polygon points="290.4,893.8 291.1,891.5 296.8,889.3 298.9,891.0 299.9,894.8 296.5,898.9 293.8,898.4" fill="url(#bg3)"/>
<polygon points="281.5,893.1 277.8,890.0 279.4,884.3 285.3,884.3 287.8,887.5 285.0,892.8" fill="url(#bg3)"/>
<polygon points="294.1,887.8 293.0,882.5 296.7,880.0 299.4,879.7 302.3,884.4 300.1,889.0" fill="url(#bg3)"/>
<polygon points="295.7,876.1 301.2,878.6 301.0,883.0 295.8,887.6 291.8,882.8" fill="url(#bg1)"/>
<polygon points="292.3,896.5 290.8,894.0 293.0,888.5 295.6,888.9 299.0,890.1 299.9,895.7 296.2,897.4" fill="url(#bg3)"/>
<polygon points="223.7,916.0 218.7,918.5 213.4,913.9 214.9,907.3 223.7,908.5" fill="url(#bg2)"/>
<polygon points="226.1,928.0 221.9,929.0 219.1,925.0 218.9,920.8 223.2,916.5 226.9,918.1 229.4,923.7" fill="url(#bg2)"/>
<polygon points="220.6,915.4 223.3,910.7 228.7,911.2 230.9,915.4 230.6,918.4 225.6,921.0 220.9,918.0" fill="url(#bg3)"/>
<polygon points="226.4,917.2 229.7,911.2 234.3,911.0 237.0,916.5 231.9,920.7" fill="url(#bg2)"/>
<polygon points="221.1,914.4 223.3,911.7 229.1,912.5 228.1,918.8 224.2,919.4" fill="url(#bg1)"/>
<polygon points="238.4,921.2 240.1,923.9 239.0,930.1 234.3,930.4 231.0,926.5 232.1,921.5" fill="url(#bg1)"/>
<polygon points="244.9,911.2 243.3,914.7 238.4,917.0 236.4,913.9 236.5,909.4 239.0,906.8 242.9,908.3" fill="url(#bg1)"/>
<polygon points="405.4,714.9 409.7,712.5 416.0,716.2 414.3,722.9 407.5,722.1" fill="url(#bg3)"/>
<polygon points="414.7,704.1 409.7,705.6 406.1,705.1 405.6,698.9 409.8,697.0 413.6,697.8 416.2,699.9" fill="url(#bg2)"/>
<polygon points="412.8,721.8 408.5,720.7 407.0,717.5 408.2,713.7 413.4,713.6 416.1,718.6" fill="url(#bg2)"/>
<polygon points="418.0,716.6 412.6,717.7 407.0,712.8 413.5,707.6 419.1,710.9" fill="url(#bg3)"/>
</g></g>
<g id="whitearrows" fill="#fff" stroke="#121212" stroke-width="5.6" stroke-linejoin="round">
<path d="M223,657.7 Q245,650 269.4,648 L273.4,631 L323,660 L283,696 L276,676.4 Q250,685 230.4,700.7 Q215,680 223,657.7 Z"/>
<path d="M217.4,730 Q245,738 256.4,756 L243.4,769 L272.6,822.6 L248,845.4 L208.4,788.5 L194.6,787 Q192,755 217.4,730 Z"/>
<path d="M373.4,712 L402.6,735 L374,778.7 L383,791.7 Q355,808 321.4,813 Q320,780 334.4,749.5 L354,752.7 Z"/>
</g>

<g id="heater" stroke="#121212" fill="none" stroke-width="3.6" stroke-linecap="round" stroke-linejoin="round">
<path d="M1353.6,204 Q1380,188 1430,180 Q1465,176 1500,177 Q1560,180 1581.4,194 Q1582,200 1578,202.4 Q1540,215 1465,222.7 Q1400,225 1353.6,212 Q1348,208 1353.6,204 Z"/>
<path d="M1347,219.3 Q1370,233 1397.5,237.9 Q1430,242 1465,241.25 Q1530,236 1576.4,221"/>
<path d="M1347,221 L1364.4,500 L1376.6,641.4 C1380,668 1430,686 1470,685.5 C1515,685 1560,665 1564.25,643 L1567.5,500 L1581.4,196"/>
<path d="M1448,157 Q1465,152 1482,156 L1480,184 L1448,185 Z"/>
<path d="M1458,156 Q1465,152 1470,154" stroke-width="2.6"/>
<path d="M1441,190 Q1443,184 1448,184 L1480,183 Q1487,184 1487,190 Q1486,197 1478,198 L1448,198 Q1441,197 1441,190 Z"/>
<path d="M1442,197 L1442,204 Q1444,207 1446,204 L1446,198 M1472,198 L1472,204 Q1475,207 1478,204 L1478,198" stroke-width="2.6"/>
<path d="M1413.5,183 Q1418,180 1422,183 L1421.5,212 Q1418,214 1414,212 Z" stroke-width="3"/>
<path d="M1505.5,159 Q1510,157 1515,159 L1515.6,188 Q1511,191 1507,188 Z" stroke-width="3"/>
<path d="M1580,262 Q1588,257 1597,262 L1597,268 M1583,268 L1576,596 L1585,596 L1597,268 M1580,262 L1583,268" stroke-width="3"/>
<path d="M1369,552 L1385,547 L1406.6,563 L1406.6,597 L1395,605.6 L1373,597 Z M1385,560 L1395,566 L1395,605 M1395,566 L1406.6,563" stroke-width="3"/>
<ellipse cx="1381" cy="585" rx="9" ry="13" stroke-width="3"/>
<path d="M1378,580 Q1383,577 1382,583 Q1378,586 1382,590" stroke-width="2.2"/>
<path d="M1356,551 L1361,545.5 L1370,552 L1366,558.5 Z" stroke-width="2.8"/>
<path d="M1543,620 Q1550,614 1553,620 L1551,627 L1563,631 L1563,641 L1552,639 Q1548,644 1545,641 L1547,633 L1538,628 Q1535,623 1543,620 Z" stroke-width="2.6"/>
</g>

<g id="inner">
<path d="M909,30 Q930,26 960,31 Q1000,27 1030,31 Q1060,28 1087.5,31 L1087.5,109 L1061,326 L1059.7,465.6 L877,465.6 L875.6,137 L909,79 Z" fill="url(#waterG)"/>
<path d="M1061,409 Q1085,407 1105,408 Q1118,410 1128,416 Q1140,417 1151.6,419 L1151.6,455 Q1110,456 1061,455.5 Z" fill="#bcd8e4"/>
<g clip-path="url(#clipI)"><use href="#tank" transform="matrix(0.846,0,0,0.846,721.9,-399.2)"/></g>
<g stroke="#121212" fill="none" stroke-width="3.4" stroke-linecap="round" stroke-linejoin="round">
<path d="M963.7,150 V195 Q977,199 988.5,195 M980.6,200 V240"/>
<path d="M1061,408.25 Q1110,403 1151.6,407 M1061,455.5 Q1110,457 1151.6,454.8"/>
</g>
</g>

<g id="sedI"><g fill="#23384a"><circle cx="957.0" cy="460.1" r="1.4"/><circle cx="1028.9" cy="406.2" r="1.0"/><circle cx="914.0" cy="431.1" r="0.8"/><circle cx="941.2" cy="409.6" r="1.6"/><circle cx="989.1" cy="422.4" r="0.8"/><circle cx="881.1" cy="393.0" r="1.2"/><circle cx="884.9" cy="375.5" r="0.8"/><circle cx="990.7" cy="395.1" r="1.0"/><circle cx="963.2" cy="428.2" r="1.5"/><circle cx="975.2" cy="407.6" r="1.0"/><circle cx="1027.2" cy="342.1" r="0.9"/><circle cx="935.0" cy="425.3" r="1.4"/><circle cx="1033.0" cy="428.8" r="1.1"/><circle cx="892.6" cy="384.1" r="1.3"/><circle cx="1026.5" cy="463.9" r="1.1"/><circle cx="1010.0" cy="370.7" r="1.0"/><circle cx="880.0" cy="408.2" r="1.0"/><circle cx="951.1" cy="394.0" r="1.2"/><circle cx="1038.1" cy="449.1" r="1.0"/><circle cx="1020.9" cy="381.6" r="1.1"/><circle cx="1007.3" cy="432.3" r="0.9"/><circle cx="895.5" cy="363.2" r="1.5"/><circle cx="884.8" cy="354.8" r="1.0"/><circle cx="953.0" cy="460.6" r="1.0"/><circle cx="905.1" cy="357.7" r="1.3"/><circle cx="1006.0" cy="383.1" r="0.8"/><circle cx="999.1" cy="369.4" r="0.7"/><circle cx="908.3" cy="344.9" r="1.1"/><circle cx="904.6" cy="438.4" r="1.2"/><circle cx="897.2" cy="372.8" r="1.2"/><circle cx="1057.1" cy="464.5" r="1.6"/><circle cx="947.9" cy="361.8" r="1.4"/><circle cx="1010.2" cy="352.6" r="1.0"/><circle cx="899.9" cy="342.5" r="1.3"/><circle cx="914.4" cy="412.2" r="1.2"/><circle cx="918.9" cy="350.6" r="1.3"/><circle cx="1030.7" cy="368.8" r="1.1"/><circle cx="1016.8" cy="450.9" r="0.8"/><circle cx="980.5" cy="404.1" r="1.5"/><circle cx="893.3" cy="396.9" r="0.9"/><circle cx="956.7" cy="465.1" r="1.5"/><circle cx="879.8" cy="367.2" r="1.0"/><circle cx="949.3" cy="421.7" r="1.1"/><circle cx="937.4" cy="368.8" r="1.3"/><circle cx="971.1" cy="408.4" r="1.0"/><circle cx="962.0" cy="429.4" r="1.1"/><circle cx="879.5" cy="422.9" r="1.1"/><circle cx="985.4" cy="360.4" r="1.2"/><circle cx="962.0" cy="460.4" r="0.8"/><circle cx="1050.1" cy="463.3" r="1.4"/><circle cx="1012.4" cy="458.2" r="1.5"/><circle cx="933.2" cy="449.5" r="1.3"/><circle cx="889.2" cy="453.8" r="0.9"/><circle cx="877.9" cy="390.5" r="1.1"/><circle cx="1043.4" cy="382.5" r="1.0"/><circle cx="1006.1" cy="350.8" r="1.2"/><circle cx="897.6" cy="375.2" r="1.2"/><circle cx="916.9" cy="387.6" r="1.5"/><circle cx="986.0" cy="409.6" r="0.9"/><circle cx="1014.8" cy="417.1" r="1.3"/><circle cx="1029.6" cy="384.9" r="1.6"/><circle cx="993.1" cy="355.6" r="1.3"/><circle cx="897.6" cy="358.7" r="0.7"/><circle cx="1039.6" cy="366.4" r="0.7"/><circle cx="1057.7" cy="363.3" r="1.2"/><circle cx="942.3" cy="371.1" r="0.9"/><circle cx="1004.5" cy="359.1" r="1.5"/><circle cx="1024.5" cy="345.5" r="1.0"/><circle cx="1037.6" cy="379.1" r="1.1"/><circle cx="884.6" cy="407.9" r="1.4"/><circle cx="975.0" cy="346.6" r="0.9"/><circle cx="910.7" cy="441.8" r="1.2"/><circle cx="1004.1" cy="436.6" r="1.3"/><circle cx="1034.4" cy="375.2" r="1.2"/><circle cx="1006.7" cy="431.8" r="0.8"/><circle cx="926.5" cy="376.5" r="0.9"/><circle cx="1053.2" cy="438.8" r="1.5"/><circle cx="1027.9" cy="424.0" r="1.4"/><circle cx="934.9" cy="354.2" r="1.5"/><circle cx="966.3" cy="408.4" r="0.8"/><circle cx="887.7" cy="457.7" r="0.8"/><circle cx="990.1" cy="413.8" r="1.3"/><circle cx="969.7" cy="356.9" r="1.4"/><circle cx="889.7" cy="453.9" r="1.6"/><circle cx="881.2" cy="417.2" r="0.9"/><circle cx="892.7" cy="443.7" r="1.1"/><circle cx="920.2" cy="361.4" r="1.0"/><circle cx="991.8" cy="415.2" r="0.8"/><circle cx="944.5" cy="454.4" r="0.7"/><circle cx="1007.2" cy="344.5" r="1.3"/><circle cx="998.6" cy="376.5" r="1.4"/><circle cx="892.8" cy="364.2" r="1.6"/><circle cx="986.1" cy="462.3" r="1.2"/><circle cx="878.0" cy="345.5" r="1.0"/><circle cx="932.7" cy="459.5" r="1.3"/><circle cx="964.6" cy="414.9" r="1.5"/><circle cx="946.1" cy="407.5" r="1.0"/><circle cx="1023.0" cy="444.2" r="1.5"/><circle cx="916.9" cy="372.7" r="1.6"/><circle cx="969.4" cy="355.1" r="1.0"/><circle cx="885.3" cy="350.2" r="1.1"/><circle cx="1020.1" cy="397.1" r="1.0"/><circle cx="964.7" cy="417.9" r="1.4"/><circle cx="1021.2" cy="428.6" r="1.1"/><circle cx="906.0" cy="401.5" r="1.5"/><circle cx="1045.9" cy="358.0" r="1.4"/><circle cx="953.9" cy="361.6" r="1.6"/><circle cx="914.9" cy="459.2" r="1.3"/><circle cx="922.0" cy="411.1" r="1.5"/><circle cx="924.7" cy="382.6" r="0.8"/><circle cx="928.0" cy="413.9" r="1.5"/><circle cx="934.1" cy="441.4" r="1.5"/><circle cx="931.8" cy="439.5" r="0.8"/><circle cx="977.0" cy="410.1" r="1.5"/><circle cx="1003.8" cy="359.8" r="1.3"/><circle cx="894.3" cy="462.3" r="1.1"/><circle cx="961.5" cy="444.8" r="1.3"/><circle cx="956.1" cy="446.5" r="0.8"/><circle cx="908.2" cy="452.8" r="1.0"/><circle cx="993.6" cy="393.6" r="0.9"/><circle cx="895.1" cy="430.4" r="1.5"/><circle cx="906.2" cy="413.1" r="0.9"/><circle cx="993.9" cy="400.2" r="0.8"/><circle cx="1054.4" cy="449.5" r="1.1"/><circle cx="1038.0" cy="420.7" r="0.8"/><circle cx="955.8" cy="446.8" r="1.6"/><circle cx="991.1" cy="414.1" r="1.5"/><circle cx="908.1" cy="382.4" r="0.8"/><circle cx="1023.1" cy="463.6" r="0.8"/><circle cx="932.6" cy="370.3" r="1.4"/><circle cx="1022.0" cy="345.7" r="1.2"/><circle cx="1039.5" cy="363.3" r="0.9"/><circle cx="923.3" cy="444.7" r="0.9"/><circle cx="910.0" cy="338.0" r="1.5"/><circle cx="917.4" cy="369.1" r="1.5"/><circle cx="951.9" cy="434.6" r="1.5"/><circle cx="897.7" cy="434.0" r="1.1"/><circle cx="965.7" cy="341.0" r="0.9"/><circle cx="940.5" cy="378.1" r="1.0"/><circle cx="994.9" cy="406.3" r="0.9"/><circle cx="952.6" cy="417.2" r="1.4"/><circle cx="1012.4" cy="424.6" r="1.2"/><circle cx="973.1" cy="435.0" r="0.9"/><circle cx="1026.9" cy="453.9" r="1.4"/><circle cx="915.2" cy="344.3" r="0.9"/><circle cx="1049.5" cy="453.5" r="1.6"/><circle cx="969.1" cy="353.2" r="1.3"/><circle cx="1039.8" cy="393.2" r="0.7"/><circle cx="923.9" cy="400.5" r="0.8"/><circle cx="911.9" cy="442.7" r="1.5"/><circle cx="955.6" cy="419.4" r="1.5"/><circle cx="902.8" cy="388.3" r="0.7"/><circle cx="930.6" cy="386.9" r="1.3"/><circle cx="971.1" cy="367.6" r="0.8"/><circle cx="885.8" cy="348.1" r="0.7"/><circle cx="930.5" cy="439.8" r="1.3"/><circle cx="906.4" cy="349.7" r="1.3"/><circle cx="1057.2" cy="376.3" r="1.4"/><circle cx="1042.9" cy="428.2" r="1.3"/><circle cx="992.2" cy="432.7" r="1.5"/><circle cx="898.3" cy="397.4" r="1.1"/><circle cx="957.4" cy="351.7" r="1.5"/><circle cx="945.8" cy="363.6" r="1.1"/><circle cx="1005.9" cy="386.5" r="1.2"/><circle cx="977.7" cy="444.8" r="1.2"/><circle cx="995.0" cy="371.6" r="1.5"/><circle cx="904.8" cy="387.9" r="1.2"/><circle cx="942.4" cy="415.2" r="0.9"/><circle cx="903.9" cy="372.9" r="1.5"/><circle cx="899.2" cy="340.1" r="0.8"/><circle cx="988.1" cy="422.9" r="1.4"/><circle cx="1041.9" cy="394.3" r="1.4"/><circle cx="895.5" cy="440.4" r="1.1"/><circle cx="968.6" cy="442.7" r="1.4"/><circle cx="942.9" cy="440.2" r="0.8"/><circle cx="881.9" cy="402.5" r="1.3"/><circle cx="1024.5" cy="408.8" r="1.2"/><circle cx="889.8" cy="375.1" r="1.6"/><circle cx="956.8" cy="413.0" r="1.0"/><circle cx="1051.5" cy="410.1" r="1.6"/><circle cx="975.3" cy="422.0" r="1.0"/><circle cx="887.6" cy="352.3" r="1.1"/><circle cx="980.6" cy="365.5" r="1.5"/><circle cx="1033.1" cy="424.7" r="1.0"/><circle cx="981.0" cy="340.7" r="1.1"/><circle cx="935.9" cy="408.5" r="1.3"/><circle cx="969.2" cy="350.0" r="1.2"/><circle cx="938.6" cy="385.2" r="1.0"/><circle cx="1027.7" cy="375.3" r="1.0"/><circle cx="921.8" cy="455.0" r="1.2"/><circle cx="984.7" cy="414.6" r="0.9"/><circle cx="955.6" cy="397.5" r="1.6"/><circle cx="1032.0" cy="440.6" r="0.8"/><circle cx="976.1" cy="354.4" r="1.4"/><circle cx="879.8" cy="370.9" r="1.3"/><circle cx="942.2" cy="426.3" r="1.5"/><circle cx="949.3" cy="360.3" r="1.3"/><circle cx="931.4" cy="440.5" r="0.9"/><circle cx="993.2" cy="405.7" r="1.1"/><circle cx="1039.2" cy="460.6" r="1.1"/><circle cx="1001.0" cy="363.0" r="1.3"/><circle cx="978.7" cy="462.9" r="1.0"/><circle cx="996.2" cy="389.2" r="1.1"/><circle cx="947.7" cy="356.0" r="1.2"/><circle cx="938.1" cy="409.2" r="0.7"/><circle cx="891.8" cy="425.4" r="0.8"/><circle cx="978.1" cy="360.1" r="1.0"/><circle cx="1018.5" cy="452.2" r="1.1"/><circle cx="937.2" cy="415.0" r="1.6"/><circle cx="1038.1" cy="361.5" r="1.2"/><circle cx="909.0" cy="349.3" r="1.5"/><circle cx="972.9" cy="399.2" r="1.5"/><circle cx="972.0" cy="356.4" r="1.2"/><circle cx="1054.2" cy="442.0" r="1.6"/><circle cx="929.2" cy="348.5" r="0.9"/><circle cx="1043.3" cy="459.5" r="0.9"/><circle cx="961.4" cy="394.4" r="1.3"/><circle cx="1019.3" cy="350.0" r="1.6"/><circle cx="950.0" cy="368.8" r="1.2"/><circle cx="960.6" cy="391.7" r="1.3"/><circle cx="893.3" cy="395.4" r="0.9"/><circle cx="887.6" cy="411.5" r="0.7"/><circle cx="1029.6" cy="435.9" r="1.2"/><circle cx="990.8" cy="413.1" r="1.5"/><circle cx="964.8" cy="356.7" r="1.1"/><circle cx="1039.0" cy="397.2" r="1.0"/><circle cx="906.1" cy="349.5" r="1.6"/><circle cx="1019.3" cy="422.9" r="1.0"/><circle cx="955.5" cy="362.8" r="1.0"/><circle cx="1000.6" cy="344.1" r="1.2"/><circle cx="968.7" cy="342.9" r="0.9"/><circle cx="1011.6" cy="458.7" r="0.9"/><circle cx="926.6" cy="393.0" r="1.2"/><circle cx="958.4" cy="397.8" r="1.2"/><circle cx="1043.5" cy="426.1" r="0.9"/><circle cx="897.5" cy="433.1" r="1.3"/><circle cx="1004.8" cy="364.8" r="0.9"/><circle cx="997.8" cy="362.1" r="1.0"/><circle cx="1008.7" cy="399.7" r="0.7"/><circle cx="1028.6" cy="442.1" r="0.8"/><circle cx="957.7" cy="346.6" r="0.7"/><circle cx="1037.0" cy="433.1" r="1.2"/><circle cx="892.6" cy="367.7" r="0.8"/><circle cx="886.1" cy="390.6" r="1.0"/><circle cx="991.1" cy="391.2" r="0.8"/><circle cx="1036.7" cy="339.2" r="0.7"/><circle cx="1019.6" cy="393.2" r="0.9"/><circle cx="1055.6" cy="341.4" r="1.5"/><circle cx="1031.4" cy="447.9" r="1.1"/><circle cx="966.2" cy="385.8" r="0.8"/><circle cx="945.5" cy="378.4" r="1.6"/><circle cx="990.7" cy="390.4" r="1.6"/><circle cx="967.4" cy="405.5" r="0.8"/><circle cx="894.7" cy="422.3" r="1.1"/><circle cx="955.2" cy="402.6" r="0.7"/><circle cx="1009.4" cy="398.1" r="1.4"/><circle cx="1030.4" cy="376.9" r="1.2"/><circle cx="953.2" cy="414.3" r="1.3"/><circle cx="877.5" cy="398.7" r="1.5"/><circle cx="940.6" cy="398.0" r="0.8"/><circle cx="990.8" cy="415.2" r="0.7"/><circle cx="932.6" cy="368.1" r="1.4"/><circle cx="949.3" cy="451.5" r="1.4"/><circle cx="996.4" cy="393.1" r="1.5"/><circle cx="991.8" cy="412.3" r="0.8"/><circle cx="1009.8" cy="376.9" r="1.5"/><circle cx="885.2" cy="375.1" r="1.3"/><circle cx="903.8" cy="428.8" r="1.3"/><circle cx="1015.5" cy="369.3" r="1.5"/><circle cx="906.8" cy="371.6" r="1.4"/><circle cx="1028.5" cy="433.4" r="1.3"/><circle cx="1054.3" cy="436.5" r="1.3"/><circle cx="902.7" cy="441.1" r="1.4"/><circle cx="895.3" cy="394.2" r="1.5"/><circle cx="1049.3" cy="357.7" r="1.1"/><circle cx="1029.8" cy="461.1" r="1.0"/><circle cx="944.1" cy="405.6" r="1.4"/><circle cx="886.5" cy="353.6" r="1.5"/><circle cx="877.2" cy="444.9" r="1.3"/><circle cx="1012.2" cy="379.8" r="0.8"/><circle cx="945.7" cy="457.1" r="1.2"/><circle cx="884.3" cy="450.4" r="1.5"/><circle cx="960.2" cy="434.1" r="1.1"/><circle cx="1028.5" cy="353.5" r="1.5"/><circle cx="904.8" cy="377.3" r="1.5"/><circle cx="886.8" cy="454.8" r="0.9"/><circle cx="1039.6" cy="361.3" r="1.1"/><circle cx="971.4" cy="441.3" r="1.6"/><circle cx="1054.0" cy="354.6" r="0.9"/><circle cx="1004.8" cy="388.3" r="0.8"/><circle cx="999.4" cy="395.3" r="1.4"/><circle cx="986.5" cy="361.5" r="1.3"/><circle cx="944.3" cy="357.5" r="1.3"/><circle cx="880.7" cy="449.8" r="0.9"/><circle cx="932.4" cy="338.8" r="1.0"/><circle cx="1011.1" cy="455.8" r="1.3"/><circle cx="1023.0" cy="407.2" r="1.1"/><circle cx="893.8" cy="389.5" r="0.9"/><circle cx="914.5" cy="457.4" r="0.7"/><circle cx="1041.5" cy="389.4" r="0.8"/><circle cx="959.1" cy="344.7" r="1.5"/><circle cx="990.3" cy="352.9" r="1.1"/><circle cx="913.4" cy="413.2" r="1.1"/><circle cx="939.8" cy="396.1" r="1.0"/><circle cx="1031.0" cy="450.2" r="0.8"/><circle cx="952.8" cy="375.4" r="0.8"/><circle cx="956.1" cy="394.9" r="0.9"/><circle cx="1035.5" cy="439.8" r="1.0"/><circle cx="989.7" cy="349.5" r="0.8"/><circle cx="888.3" cy="394.8" r="1.1"/><circle cx="966.5" cy="388.6" r="0.9"/><circle cx="1003.9" cy="420.1" r="1.2"/><circle cx="911.5" cy="338.8" r="1.5"/><circle cx="1028.3" cy="461.4" r="1.0"/><circle cx="993.1" cy="409.3" r="1.4"/><circle cx="892.3" cy="388.2" r="0.8"/><circle cx="951.2" cy="354.4" r="1.0"/><circle cx="1027.3" cy="374.8" r="1.5"/><circle cx="1017.2" cy="413.5" r="1.3"/><circle cx="989.4" cy="360.2" r="0.9"/><circle cx="967.6" cy="340.0" r="1.3"/><circle cx="1021.5" cy="373.2" r="1.2"/><circle cx="967.0" cy="450.2" r="1.5"/><circle cx="954.3" cy="340.6" r="1.6"/><circle cx="1008.8" cy="427.3" r="1.3"/><circle cx="893.8" cy="419.5" r="1.6"/><circle cx="933.1" cy="364.0" r="1.0"/><circle cx="996.8" cy="425.8" r="1.1"/><circle cx="955.4" cy="387.8" r="0.9"/><circle cx="932.8" cy="352.7" r="1.4"/><circle cx="1014.6" cy="457.8" r="1.3"/><circle cx="980.2" cy="419.0" r="0.9"/><circle cx="990.5" cy="402.9" r="1.6"/><circle cx="936.6" cy="387.3" r="1.6"/><circle cx="1009.4" cy="342.8" r="1.1"/><circle cx="969.5" cy="422.7" r="1.4"/><circle cx="887.2" cy="376.1" r="0.8"/><circle cx="916.0" cy="401.8" r="1.0"/><circle cx="1039.9" cy="390.4" r="0.8"/><circle cx="1009.5" cy="360.1" r="0.9"/><circle cx="893.7" cy="357.6" r="1.2"/><circle cx="1012.3" cy="384.3" r="0.8"/><circle cx="935.8" cy="392.8" r="0.8"/><circle cx="891.3" cy="379.6" r="1.5"/><circle cx="949.9" cy="431.0" r="1.0"/><circle cx="1055.2" cy="372.2" r="1.1"/><circle cx="905.8" cy="435.6" r="1.6"/><circle cx="1040.1" cy="435.2" r="0.8"/><circle cx="1006.4" cy="441.9" r="1.4"/><circle cx="888.8" cy="376.9" r="1.0"/><circle cx="926.5" cy="368.2" r="1.4"/><circle cx="977.4" cy="387.1" r="1.3"/><circle cx="934.7" cy="339.2" r="1.3"/><circle cx="955.0" cy="419.0" r="1.0"/><circle cx="967.3" cy="411.3" r="0.9"/><circle cx="914.7" cy="419.1" r="1.2"/><circle cx="963.5" cy="383.6" r="1.3"/><circle cx="1043.6" cy="348.6" r="1.5"/><circle cx="981.1" cy="434.3" r="1.2"/><circle cx="1002.3" cy="418.7" r="1.3"/><circle cx="967.1" cy="393.7" r="1.3"/><circle cx="985.2" cy="364.8" r="1.6"/><circle cx="962.0" cy="451.8" r="1.0"/><circle cx="1017.7" cy="427.0" r="1.0"/><circle cx="1001.6" cy="355.5" r="1.4"/><circle cx="1022.1" cy="417.9" r="1.5"/><circle cx="928.6" cy="400.9" r="0.9"/><circle cx="1041.3" cy="464.4" r="1.1"/><circle cx="881.1" cy="376.0" r="1.5"/><circle cx="912.0" cy="356.8" r="1.1"/><circle cx="928.7" cy="385.8" r="1.2"/><circle cx="1051.4" cy="376.8" r="1.4"/><circle cx="951.8" cy="420.2" r="1.1"/><circle cx="1038.5" cy="435.9" r="1.3"/><circle cx="1043.6" cy="382.0" r="1.3"/><circle cx="1052.8" cy="431.3" r="0.9"/><circle cx="918.5" cy="437.8" r="1.4"/><circle cx="924.6" cy="381.8" r="1.4"/><circle cx="994.1" cy="374.1" r="1.2"/><circle cx="1049.7" cy="355.6" r="1.0"/><circle cx="992.5" cy="381.8" r="1.2"/><circle cx="954.3" cy="349.1" r="1.5"/><circle cx="967.3" cy="384.9" r="1.2"/><circle cx="1025.6" cy="343.4" r="1.1"/><circle cx="989.8" cy="371.6" r="0.9"/><circle cx="967.3" cy="454.8" r="0.9"/><circle cx="923.7" cy="426.3" r="0.9"/><circle cx="921.8" cy="369.6" r="0.9"/><circle cx="971.7" cy="354.7" r="1.3"/><circle cx="966.5" cy="448.2" r="1.0"/><circle cx="887.5" cy="423.1" r="0.9"/><circle cx="970.7" cy="399.0" r="0.7"/><circle cx="939.2" cy="348.9" r="1.0"/><circle cx="964.9" cy="403.7" r="1.5"/><circle cx="1049.6" cy="418.8" r="1.2"/><circle cx="903.9" cy="386.1" r="1.0"/><circle cx="982.5" cy="380.8" r="0.8"/><circle cx="963.6" cy="438.5" r="0.9"/><circle cx="1017.0" cy="340.6" r="1.1"/><circle cx="965.4" cy="363.5" r="1.2"/><circle cx="1052.8" cy="426.2" r="1.1"/><circle cx="1051.9" cy="366.7" r="1.4"/><circle cx="938.0" cy="357.2" r="0.9"/><circle cx="978.1" cy="420.2" r="1.0"/><circle cx="891.2" cy="351.3" r="1.2"/><circle cx="930.8" cy="418.0" r="1.4"/><circle cx="960.8" cy="372.6" r="1.0"/><circle cx="1024.5" cy="444.3" r="0.9"/><circle cx="909.1" cy="364.1" r="1.0"/><circle cx="982.3" cy="362.1" r="1.4"/><circle cx="888.5" cy="423.7" r="1.2"/><circle cx="1030.1" cy="343.6" r="0.8"/><circle cx="972.3" cy="400.5" r="1.5"/><circle cx="996.6" cy="370.4" r="1.5"/><circle cx="951.3" cy="410.4" r="1.2"/><circle cx="926.0" cy="397.0" r="0.9"/><circle cx="1033.1" cy="369.1" r="0.7"/><circle cx="992.1" cy="424.4" r="0.9"/><circle cx="965.1" cy="384.3" r="1.5"/><circle cx="955.7" cy="427.3" r="1.2"/><circle cx="1055.5" cy="401.8" r="1.2"/><circle cx="1030.5" cy="449.7" r="1.1"/><circle cx="901.6" cy="436.7" r="0.9"/><circle cx="1017.7" cy="389.7" r="1.5"/><circle cx="968.1" cy="457.2" r="1.0"/><circle cx="892.4" cy="352.8" r="1.5"/><circle cx="942.9" cy="350.5" r="1.5"/><circle cx="973.8" cy="361.4" r="1.2"/><circle cx="901.9" cy="349.8" r="0.9"/><circle cx="918.4" cy="344.0" r="0.9"/><circle cx="893.8" cy="399.1" r="1.5"/><circle cx="995.8" cy="450.1" r="0.9"/><circle cx="950.8" cy="434.1" r="1.3"/><circle cx="902.9" cy="425.2" r="1.1"/><circle cx="962.1" cy="343.4" r="1.2"/><circle cx="914.8" cy="380.8" r="1.5"/><circle cx="1009.5" cy="394.4" r="0.8"/><circle cx="1012.3" cy="380.8" r="1.2"/><circle cx="1047.8" cy="412.1" r="0.8"/><circle cx="1000.8" cy="344.1" r="0.9"/><circle cx="878.3" cy="411.9" r="1.1"/><circle cx="886.7" cy="380.2" r="1.3"/><circle cx="889.1" cy="368.7" r="1.2"/><circle cx="970.6" cy="356.9" r="0.9"/><circle cx="930.8" cy="416.0" r="1.1"/><circle cx="935.5" cy="352.6" r="1.1"/><circle cx="908.7" cy="353.3" r="0.7"/><circle cx="979.3" cy="357.4" r="0.7"/><circle cx="1005.5" cy="449.4" r="1.3"/><circle cx="1041.7" cy="454.3" r="0.9"/><circle cx="998.1" cy="395.4" r="1.4"/><circle cx="1035.4" cy="453.6" r="1.1"/><circle cx="898.1" cy="361.8" r="1.4"/><circle cx="1019.9" cy="384.8" r="1.0"/><circle cx="1025.0" cy="428.3" r="1.4"/><circle cx="1042.6" cy="461.9" r="1.1"/><circle cx="916.0" cy="430.7" r="1.1"/><circle cx="982.0" cy="438.9" r="1.5"/><circle cx="1015.4" cy="354.7" r="1.3"/><circle cx="878.4" cy="390.3" r="1.2"/><circle cx="1007.0" cy="465.9" r="1.2"/><circle cx="956.6" cy="365.8" r="1.5"/><circle cx="893.3" cy="416.3" r="1.5"/><circle cx="1008.8" cy="404.3" r="1.6"/><circle cx="1008.5" cy="346.4" r="1.5"/><circle cx="880.4" cy="370.1" r="1.5"/><circle cx="908.7" cy="402.0" r="1.5"/><circle cx="958.1" cy="379.2" r="0.9"/><circle cx="1033.3" cy="406.6" r="0.8"/><circle cx="1054.4" cy="372.2" r="1.5"/><circle cx="1000.8" cy="395.2" r="1.4"/><circle cx="930.1" cy="427.8" r="0.9"/><circle cx="987.1" cy="413.2" r="1.1"/><circle cx="1035.6" cy="430.8" r="0.9"/><circle cx="1025.2" cy="377.0" r="1.5"/><circle cx="1054.5" cy="357.8" r="1.0"/><circle cx="885.8" cy="443.8" r="1.3"/><circle cx="908.9" cy="455.3" r="1.0"/><circle cx="914.4" cy="463.6" r="1.4"/><circle cx="900.3" cy="454.9" r="1.6"/><circle cx="1025.2" cy="403.6" r="1.2"/><circle cx="901.9" cy="420.4" r="1.6"/><circle cx="1016.3" cy="371.9" r="1.3"/><circle cx="1012.3" cy="361.9" r="1.6"/><circle cx="893.5" cy="352.0" r="1.0"/><circle cx="967.4" cy="414.6" r="1.6"/><circle cx="1026.3" cy="438.8" r="1.3"/><circle cx="1003.1" cy="345.0" r="1.4"/><circle cx="979.4" cy="422.2" r="1.2"/><circle cx="881.1" cy="410.5" r="1.5"/><circle cx="891.1" cy="418.5" r="1.5"/><circle cx="911.9" cy="400.6" r="1.2"/><circle cx="1023.0" cy="396.2" r="1.5"/><circle cx="932.3" cy="464.9" r="1.4"/><circle cx="949.0" cy="437.8" r="1.4"/><circle cx="977.1" cy="428.8" r="1.4"/><circle cx="1049.3" cy="447.1" r="1.2"/><circle cx="1005.6" cy="379.5" r="0.9"/><circle cx="987.4" cy="368.0" r="1.4"/><circle cx="892.4" cy="386.9" r="1.2"/><circle cx="995.4" cy="381.5" r="0.9"/><circle cx="990.2" cy="448.8" r="1.6"/><circle cx="970.4" cy="375.8" r="1.2"/><circle cx="1039.1" cy="408.8" r="0.7"/><circle cx="943.6" cy="403.8" r="0.8"/><circle cx="1049.1" cy="391.7" r="1.2"/><circle cx="906.9" cy="385.7" r="0.8"/><circle cx="994.7" cy="445.1" r="0.7"/><circle cx="887.9" cy="361.5" r="1.0"/><circle cx="1025.4" cy="449.0" r="1.6"/><circle cx="968.7" cy="358.2" r="1.5"/><circle cx="994.4" cy="407.4" r="1.0"/><circle cx="908.8" cy="395.5" r="1.1"/><circle cx="909.6" cy="376.8" r="0.8"/><circle cx="935.7" cy="368.7" r="1.0"/><circle cx="1019.7" cy="405.7" r="1.2"/><circle cx="959.7" cy="433.6" r="0.8"/><circle cx="1013.0" cy="408.9" r="1.3"/><circle cx="1034.1" cy="410.6" r="1.2"/><circle cx="904.5" cy="380.0" r="1.5"/><circle cx="1061.7" cy="414.3" r="0.8"/><circle cx="1144.3" cy="428.5" r="1.5"/><circle cx="1083.4" cy="412.4" r="1.3"/><circle cx="1084.6" cy="415.5" r="1.0"/><circle cx="1118.6" cy="450.7" r="1.1"/><circle cx="1118.7" cy="411.9" r="0.9"/><circle cx="1123.8" cy="414.5" r="1.0"/><circle cx="1065.0" cy="441.3" r="1.1"/><circle cx="1121.5" cy="425.7" r="1.1"/><circle cx="1113.2" cy="429.8" r="0.8"/><circle cx="1066.3" cy="448.2" r="1.2"/><circle cx="1122.4" cy="438.9" r="1.0"/><circle cx="1063.6" cy="450.8" r="0.9"/><circle cx="1142.5" cy="417.9" r="1.4"/><circle cx="1108.5" cy="415.9" r="0.9"/><circle cx="1121.2" cy="452.0" r="1.1"/><circle cx="1116.1" cy="446.5" r="0.7"/><circle cx="1081.4" cy="419.9" r="1.3"/><circle cx="1127.9" cy="450.8" r="1.0"/><circle cx="1139.2" cy="416.6" r="1.4"/><circle cx="1137.2" cy="443.4" r="1.2"/><circle cx="1147.2" cy="445.6" r="0.7"/><circle cx="1135.3" cy="420.2" r="1.0"/><circle cx="1110.3" cy="444.5" r="1.4"/><circle cx="1063.1" cy="429.2" r="0.8"/><circle cx="1116.1" cy="415.7" r="1.2"/><circle cx="1119.5" cy="424.6" r="1.2"/><circle cx="1124.1" cy="452.7" r="1.3"/><circle cx="1109.7" cy="434.2" r="0.7"/><circle cx="1103.0" cy="446.4" r="1.0"/><circle cx="1111.0" cy="411.2" r="1.1"/><circle cx="1142.4" cy="430.6" r="0.8"/><circle cx="1096.0" cy="420.2" r="1.2"/><circle cx="1118.3" cy="429.6" r="1.1"/><circle cx="1136.0" cy="451.0" r="1.2"/><circle cx="1107.7" cy="433.7" r="1.1"/><circle cx="1136.4" cy="453.4" r="0.9"/><circle cx="1098.8" cy="428.2" r="1.1"/><circle cx="1124.1" cy="433.9" r="1.4"/><circle cx="1120.0" cy="419.2" r="0.9"/><circle cx="1081.6" cy="425.0" r="1.0"/><circle cx="1085.8" cy="410.7" r="1.0"/><circle cx="1142.8" cy="444.7" r="1.0"/><circle cx="1125.5" cy="443.5" r="1.2"/><circle cx="1116.8" cy="417.5" r="1.1"/><circle cx="1137.1" cy="427.7" r="0.8"/><circle cx="1145.3" cy="424.2" r="1.2"/><circle cx="1105.6" cy="411.2" r="1.3"/><circle cx="1144.0" cy="448.2" r="0.9"/><circle cx="1093.2" cy="436.9" r="1.2"/><circle cx="1089.6" cy="435.6" r="1.4"/><circle cx="1094.9" cy="443.1" r="1.5"/><circle cx="1139.6" cy="424.5" r="1.3"/><circle cx="1133.4" cy="416.3" r="1.3"/><circle cx="1062.1" cy="447.3" r="1.4"/><circle cx="1101.6" cy="453.3" r="1.0"/><circle cx="1079.8" cy="432.1" r="0.7"/><circle cx="1079.4" cy="428.0" r="0.9"/><circle cx="1089.8" cy="433.5" r="0.8"/><circle cx="1108.0" cy="440.6" r="1.2"/><circle cx="1066.6" cy="434.5" r="1.3"/><circle cx="1094.4" cy="435.3" r="1.4"/><circle cx="1128.2" cy="425.2" r="0.7"/><circle cx="1086.6" cy="410.7" r="0.7"/><circle cx="1065.3" cy="434.3" r="1.1"/><circle cx="1101.3" cy="436.1" r="1.0"/><circle cx="1107.9" cy="421.2" r="0.8"/><circle cx="1146.2" cy="442.7" r="1.3"/><circle cx="1136.3" cy="429.8" r="0.9"/><circle cx="1076.1" cy="441.5" r="1.3"/><circle cx="1144.2" cy="425.0" r="1.4"/><circle cx="1102.7" cy="444.3" r="0.9"/><circle cx="1115.7" cy="435.3" r="1.4"/><circle cx="1067.6" cy="453.1" r="1.1"/><circle cx="1137.1" cy="412.5" r="1.3"/><circle cx="1134.4" cy="425.1" r="1.0"/><circle cx="1136.2" cy="423.0" r="0.9"/><circle cx="1121.4" cy="446.3" r="1.1"/><circle cx="1071.5" cy="429.5" r="1.2"/><circle cx="1121.1" cy="441.5" r="1.3"/><circle cx="1148.6" cy="411.2" r="1.4"/><circle cx="1088.8" cy="412.7" r="0.9"/><circle cx="1081.7" cy="414.7" r="1.1"/><circle cx="1143.9" cy="438.1" r="0.9"/><circle cx="1080.7" cy="414.3" r="1.2"/><circle cx="1070.2" cy="429.1" r="1.5"/><circle cx="1144.1" cy="445.0" r="1.1"/><circle cx="1074.2" cy="426.7" r="1.1"/><circle cx="1108.2" cy="439.9" r="0.8"/><circle cx="1110.5" cy="431.7" r="0.8"/></g><g stroke="#463a1c" stroke-width="1.4" stroke-linejoin="round">
<polygon points="904.2,317.8 909.6,317.1 911.5,321.5 908.6,326.2 904.4,325.4 901.5,321.5" fill="url(#bg3)"/>
<polygon points="892.4,321.2 889.3,315.3 891.6,310.0 897.1,310.0 900.2,315.4 896.2,320.5" fill="url(#bg2)"/>
<polygon points="893.2,313.6 887.9,317.7 882.7,314.3 883.3,311.2 886.1,306.9 891.6,307.7" fill="url(#bg3)"/>
<polygon points="893.0,313.3 888.9,311.3 888.0,307.6 890.5,304.3 894.5,305.2 897.6,309.5" fill="url(#bg3)"/>
<polygon points="906.6,315.7 900.3,320.0 895.2,316.4 897.0,310.6 904.0,309.1" fill="url(#bg1)"/>
<polygon points="913.8,333.6 908.0,335.2 905.7,332.7 905.6,327.4 907.4,326.2 911.9,326.9 914.9,331.6" fill="url(#bg1)"/>
<polygon points="891.9,306.1 892.6,310.3 890.4,313.9 887.2,315.3 883.2,311.9 884.2,306.5 886.1,304.5" fill="url(#bg3)"/>
<polygon points="903.0,313.0 909.3,315.5 909.4,319.6 903.4,322.6 900.8,319.1" fill="url(#bg1)"/>
<polygon points="898.2,326.9 893.5,325.6 891.6,321.1 895.5,317.1 899.1,317.7 903.2,321.2" fill="url(#bg1)"/>
<polygon points="905.4,322.0 909.9,322.9 911.1,326.9 909.0,330.6 906.2,332.2 902.4,330.1 900.8,324.4" fill="url(#bg3)"/>
<polygon points="890.0,332.3 885.2,329.2 885.5,323.9 890.1,322.7 894.1,328.0" fill="url(#bg1)"/>
<polygon points="900.6,320.8 896.7,319.6 895.1,314.2 899.2,310.6 904.3,311.0 905.6,315.1 904.3,321.1" fill="url(#bg1)"/>
<polygon points="895.5,315.8 890.4,317.1 887.1,312.8 889.5,308.8 894.3,310.5" fill="url(#bg2)"/>
<polygon points="926.4,326.5 928.8,331.1 925.9,335.5 920.4,335.1 919.6,329.9 921.9,325.7" fill="url(#bg2)"/>
<polygon points="931.4,327.5 926.9,328.9 921.1,324.8 923.1,318.9 928.1,318.4 932.8,320.2" fill="url(#bg2)"/>
<polygon points="933.8,316.6 935.7,322.8 927.6,326.6 925.2,320.1 927.5,316.3" fill="url(#bg1)"/>
<polygon points="933.6,336.5 929.6,335.0 928.7,332.8 930.7,328.2 934.8,327.7 937.1,331.7 936.4,334.8" fill="url(#bg1)"/>
<polygon points="933.9,333.4 926.5,334.8 924.9,331.5 926.6,325.2 930.6,325.0 935.6,329.3" fill="url(#bg1)"/>
<polygon points="937.7,312.9 942.2,317.2 938.9,322.6 934.3,321.7 933.0,314.7" fill="url(#bg3)"/>
<polygon points="928.8,320.0 926.1,325.3 919.8,325.4 917.6,318.4 924.2,314.6" fill="url(#bg3)"/>
<polygon points="959.3,325.5 962.9,328.9 963.4,333.5 958.6,336.2 955.7,334.2 954.1,329.6" fill="url(#bg2)"/>
<polygon points="966.8,324.6 963.6,326.8 959.1,324.2 959.8,319.1 963.3,317.9 968.7,320.1" fill="url(#bg2)"/>
<polygon points="959.4,335.9 957.0,331.0 959.5,328.3 964.1,327.7 966.5,331.9 962.8,336.1" fill="url(#bg3)"/>
<polygon points="955.9,321.0 961.0,321.7 963.4,327.6 959.1,329.5 954.6,326.4" fill="url(#bg3)"/>
<polygon points="953.5,320.3 950.8,319.0 951.1,314.8 954.0,310.7 957.3,312.2 959.5,316.6 958.8,320.0" fill="url(#bg3)"/>
<polygon points="954.0,318.9 959.1,323.0 957.8,329.2 952.2,329.7 948.6,327.2 949.4,322.3" fill="url(#bg1)"/>
<polygon points="955.2,309.3 957.0,313.7 956.5,317.7 950.9,318.2 947.5,315.5 948.8,310.2 950.4,308.5" fill="url(#bg1)"/>
<polygon points="910.7,301.4 916.4,302.4 918.1,304.3 916.2,310.1 912.4,311.4 909.6,307.7" fill="url(#bg2)"/>
<polygon points="904.9,348.1 898.1,345.3 899.8,340.7 907.0,340.0 908.1,345.3" fill="url(#bg2)"/>
<polygon points="901.0,345.8 897.4,343.8 898.4,338.4 902.8,337.3 906.6,337.2 908.2,342.0 905.5,345.4" fill="url(#bg2)"/>
<polygon points="927.7,359.8 932.6,361.3 934.8,366.6 931.0,369.1 925.4,366.1" fill="url(#bg2)"/>
<polygon points="912.1,362.0 913.9,365.7 910.9,370.9 903.9,366.9 907.2,362.0" fill="url(#bg2)"/>
<polygon points="911.2,355.2 915.4,351.5 922.0,355.1 920.5,359.2 914.2,362.5 910.4,360.8" fill="url(#bg1)"/>
<polygon points="919.8,358.4 921.7,363.0 919.1,367.9 913.2,365.6 913.3,361.2" fill="url(#bg3)"/>
<polygon points="928.2,370.9 921.1,374.9 916.5,370.7 920.9,364.4 927.9,365.0" fill="url(#bg2)"/>
<polygon points="914.8,356.7 916.4,352.3 921.2,349.5 923.2,351.2 924.9,357.1 922.6,360.0 916.6,360.1" fill="url(#bg1)"/>
<polygon points="915.9,353.5 909.7,356.1 906.5,351.9 907.6,348.0 912.3,345.0 916.7,348.9" fill="url(#bg3)"/>
<polygon points="927.9,370.1 923.9,373.1 919.3,371.0 919.9,365.7 925.9,363.4" fill="url(#bg1)"/>
<polygon points="943.6,359.5 946.3,356.3 950.8,356.6 951.9,361.0 949.8,364.3 945.8,365.7" fill="url(#bg2)"/>
<polygon points="898.7,366.3 896.2,363.2 900.4,357.9 905.7,359.5 905.6,366.0" fill="url(#bg1)"/>
<polygon points="955.1,353.9 949.5,357.3 944.3,356.1 946.3,349.1 953.0,347.9" fill="url(#bg3)"/>
<polygon points="919.1,366.0 916.4,362.1 918.6,357.6 923.4,357.1 924.8,364.6" fill="url(#bg2)"/>
<polygon points="910.8,358.5 919.5,356.6 922.3,363.0 916.4,367.2 912.3,365.5" fill="url(#bg3)"/>
<polygon points="911.1,359.4 910.8,364.2 906.3,367.0 902.2,364.7 900.8,361.6 903.9,356.6 907.5,356.0" fill="url(#bg3)"/>
<polygon points="955.1,358.6 950.3,359.7 948.3,355.3 950.6,350.5 953.5,351.2 957.7,353.9" fill="url(#bg2)"/>
<polygon points="956.0,372.8 951.9,376.3 947.4,374.2 946.6,368.6 952.0,367.3" fill="url(#bg3)"/>
<polygon points="898.6,371.2 899.8,367.9 903.4,364.8 908.8,369.1 909.2,371.9 905.8,375.8 900.4,374.6" fill="url(#bg3)"/>
<polygon points="946.4,369.7 943.9,364.5 944.5,361.3 950.9,358.3 954.1,363.1 953.1,368.1" fill="url(#bg2)"/>
<polygon points="913.6,368.2 910.4,372.6 904.2,368.3 906.4,364.9 912.7,363.8" fill="url(#bg2)"/>
<polygon points="918.1,366.6 922.5,363.3 927.0,365.9 928.0,372.2 920.5,374.9 916.8,370.6" fill="url(#bg1)"/>
<polygon points="909.1,351.2 914.8,353.2 915.6,357.9 909.9,360.6 905.3,357.0" fill="url(#bg3)"/>
<polygon points="967.8,356.7 970.8,350.6 975.6,351.8 976.7,357.5 971.5,360.2" fill="url(#bg1)"/>
<polygon points="973.2,359.5 975.2,365.2 971.9,370.6 966.3,370.0 964.1,366.0 965.5,359.8" fill="url(#bg1)"/>
<polygon points="962.1,360.9 963.2,355.8 969.0,356.0 972.1,361.2 970.7,363.8 963.7,365.1" fill="url(#bg3)"/>
<polygon points="964.2,363.2 968.2,363.4 971.2,366.6 970.2,370.9 963.7,372.1 961.4,367.8" fill="url(#bg3)"/>
<polygon points="976.6,356.4 979.4,360.8 976.4,365.4 970.3,363.3 968.1,359.4 972.2,354.3" fill="url(#bg1)"/>
<polygon points="974.9,358.3 970.4,361.6 966.8,360.3 965.4,355.4 969.1,351.6 973.9,353.5" fill="url(#bg2)"/>
<polygon points="971.0,358.1 974.3,359.5 976.1,363.7 973.5,368.1 967.6,367.2 967.0,362.2" fill="url(#bg1)"/>
<polygon points="974.7,350.6 971.1,351.8 966.8,347.8 966.9,343.2 970.6,341.5 975.3,341.0 977.3,345.7" fill="url(#bg1)"/>
<polygon points="947.2,375.5 950.1,377.4 950.3,381.7 948.2,385.7 941.9,385.7 939.3,379.5 942.4,375.2" fill="url(#bg1)"/>
<polygon points="969.3,387.5 965.1,387.2 962.6,383.6 966.1,378.9 969.7,379.6 972.3,384.0" fill="url(#bg2)"/>
<polygon points="949.4,379.0 946.4,383.4 942.0,382.3 939.7,376.4 943.4,374.3 947.2,375.8" fill="url(#bg1)"/>
<polygon points="942.9,383.3 936.4,381.0 936.0,377.3 939.3,373.0 944.5,376.0 945.8,380.7" fill="url(#bg2)"/>
<polygon points="952.1,380.7 948.0,383.6 943.1,380.3 941.9,376.0 944.6,372.5 951.7,375.2" fill="url(#bg2)"/>
<polygon points="917.0,381.2 920.3,387.2 915.3,392.0 909.2,389.8 911.2,381.6" fill="url(#bg1)"/>
<polygon points="952.5,379.9 947.7,383.2 944.6,382.5 942.0,378.0 943.4,374.6 948.8,373.2 951.2,375.2" fill="url(#bg3)"/>
<polygon points="935.5,395.2 932.6,391.0 933.4,386.6 938.2,385.0 941.0,387.9 940.6,393.3" fill="url(#bg3)"/>
<polygon points="978.7,390.4 976.4,395.9 970.3,395.9 968.5,390.3 972.2,384.9 976.9,386.2" fill="url(#bg3)"/>
<polygon points="975.7,378.1 974.4,383.6 968.6,384.8 963.7,381.4 966.2,375.5 970.8,374.9" fill="url(#bg1)"/>
<polygon points="942.3,394.1 939.9,390.0 942.8,384.8 949.9,387.0 951.9,390.9 947.3,394.6" fill="url(#bg2)"/>
<polygon points="924.8,383.7 926.5,390.5 921.5,393.0 916.7,392.6 915.8,387.0 920.7,382.8" fill="url(#bg2)"/>
<polygon points="917.2,379.0 918.3,385.9 913.5,387.8 908.1,385.8 908.3,378.5 912.5,376.3" fill="url(#bg1)"/>
<polygon points="921.9,384.5 924.7,390.2 921.1,394.1 917.0,391.8 917.3,386.2" fill="url(#bg3)"/>
<polygon points="975.2,381.9 972.6,384.6 969.0,384.4 965.0,381.6 966.4,376.8 970.7,374.7 974.6,375.7" fill="url(#bg1)"/>
<polygon points="978.0,375.0 982.5,378.0 981.8,382.4 979.8,385.0 975.3,383.5 973.1,378.7" fill="url(#bg1)"/>
<polygon points="945.1,385.3 942.7,382.2 944.5,377.6 947.6,377.1 950.7,380.2 948.9,385.0" fill="url(#bg1)"/>
<polygon points="925.6,383.7 922.1,384.5 916.0,381.7 918.0,375.9 923.0,374.1 928.7,379.3" fill="url(#bg2)"/>
<polygon points="963.5,392.9 959.3,394.2 954.9,390.0 956.6,385.9 961.6,384.4 964.3,387.5" fill="url(#bg2)"/>
<polygon points="962.8,380.1 964.9,374.1 969.0,373.0 973.4,377.8 969.8,384.1 964.6,383.4" fill="url(#bg2)"/>
<polygon points="952.9,376.9 958.8,377.7 962.9,381.4 961.8,385.2 955.8,388.5 952.9,387.2 950.4,381.8" fill="url(#bg3)"/>
<polygon points="887.0,414.6 890.2,408.8 895.3,408.8 898.8,413.8 897.1,418.8 892.4,419.7" fill="url(#bg1)"/>
<polygon points="881.5,417.3 886.6,418.4 888.1,422.2 883.3,427.3 879.8,426.1 876.9,422.1" fill="url(#bg1)"/>
<polygon points="891.9,413.8 894.8,416.9 893.0,422.1 887.0,423.0 885.3,419.3 885.8,416.3" fill="url(#bg1)"/>
<polygon points="905.3,409.1 907.8,415.6 903.7,419.2 899.6,416.4 900.2,410.1" fill="url(#bg3)"/>
<polygon points="896.3,408.1 901.0,407.6 902.3,412.6 900.4,416.0 896.5,415.6 894.0,411.4" fill="url(#bg3)"/>
<polygon points="893.6,409.0 892.0,403.2 894.1,399.9 900.9,399.5 904.2,404.0 900.0,410.1" fill="url(#bg3)"/>
<polygon points="887.4,421.8 881.5,420.0 880.6,413.8 888.4,409.7 891.3,415.5" fill="url(#bg2)"/>
<polygon points="890.4,413.2 892.6,410.9 898.3,413.8 899.2,418.0 894.0,421.2 890.9,419.5" fill="url(#bg3)"/>
<polygon points="885.0,405.3 882.6,407.9 877.3,408.3 875.0,404.2 878.5,399.1 883.5,400.0" fill="url(#bg1)"/>
<polygon points="899.0,408.3 899.0,415.7 894.2,417.0 890.5,413.9 891.0,409.1 894.6,406.5" fill="url(#bg1)"/>
<polygon points="927.9,417.9 925.5,416.1 924.1,410.9 927.5,407.6 931.2,409.1 933.3,413.7" fill="url(#bg3)"/>
<polygon points="928.3,413.8 924.8,415.8 920.4,414.2 920.3,409.5 923.7,407.1 927.0,407.6" fill="url(#bg3)"/>
<polygon points="920.8,417.3 915.9,415.7 914.4,410.9 919.2,407.3 923.8,409.2 924.1,412.7" fill="url(#bg2)"/>
<polygon points="914.5,422.9 912.2,416.8 915.0,413.8 921.1,415.8 923.4,420.1 920.1,424.2" fill="url(#bg2)"/>
<polygon points="912.1,420.0 913.3,415.4 918.7,414.7 922.0,418.6 919.3,423.5 916.5,424.3" fill="url(#bg1)"/>
<polygon points="911.0,423.5 912.6,420.8 915.8,419.3 920.2,422.3 920.6,426.3 916.4,428.2 913.8,427.2" fill="url(#bg3)"/>
<polygon points="939.9,405.6 944.6,399.8 949.8,403.3 949.6,410.0 940.9,410.3" fill="url(#bg3)"/>
<polygon points="951.9,413.9 947.0,413.8 945.0,410.6 948.3,404.9 952.3,405.2 954.0,409.9" fill="url(#bg2)"/>
<polygon points="896.3,448.3 891.2,449.5 888.7,447.4 888.4,440.9 893.5,439.8 896.6,442.0" fill="url(#bg3)"/>
<polygon points="901.9,452.7 896.8,452.6 894.7,446.0 900.4,443.8 904.7,445.9" fill="url(#bg3)"/>
<polygon points="902.9,457.3 900.4,460.2 894.7,461.7 891.6,457.6 892.5,452.6 894.7,450.7 900.2,451.8" fill="url(#bg2)"/>
<polygon points="893.4,460.2 887.7,456.8 889.6,452.2 894.2,451.0 896.3,456.6" fill="url(#bg1)"/>
<polygon points="896.3,446.1 900.5,444.9 904.0,448.4 903.0,452.3 899.2,453.6 894.9,452.1 894.7,448.9" fill="url(#bg1)"/>
<polygon points="886.5,449.2 890.0,450.3 891.7,455.7 887.6,457.9 884.3,456.3 882.9,452.6" fill="url(#bg1)"/>
<polygon points="894.7,458.1 895.0,454.4 900.2,451.8 904.6,454.3 903.3,457.8 900.2,460.2" fill="url(#bg2)"/>
<polygon points="926.2,447.8 930.8,450.3 930.6,454.5 927.9,457.2 923.3,457.8 921.6,452.8" fill="url(#bg3)"/>
<polygon points="929.3,456.3 932.2,451.5 935.7,451.8 939.0,456.5 935.9,459.5 931.3,460.3" fill="url(#bg1)"/>
<polygon points="931.5,451.5 926.9,453.4 924.7,451.0 923.7,447.6 926.1,444.5 929.5,444.3 932.7,448.9" fill="url(#bg3)"/>
<polygon points="940.0,450.9 942.3,455.4 940.0,459.4 936.2,460.3 931.6,456.8 932.6,451.7" fill="url(#bg1)"/>
<polygon points="929.1,455.9 926.2,462.1 920.0,461.5 917.5,455.9 923.9,450.4" fill="url(#bg1)"/>
<polygon points="935.3,457.7 929.3,459.3 924.8,455.4 927.8,450.1 935.4,452.3" fill="url(#bg2)"/>
<polygon points="958.9,441.8 958.9,446.0 954.0,447.7 951.1,446.2 949.4,441.7 952.8,437.9 956.0,439.1" fill="url(#bg2)"/>
<polygon points="953.4,441.9 957.3,446.9 955.2,453.0 948.4,451.4 945.7,446.3 949.0,442.7" fill="url(#bg1)"/>
<polygon points="958.0,461.8 956.7,458.6 956.7,454.4 962.1,452.9 967.1,455.3 966.9,460.0 963.8,463.0" fill="url(#bg2)"/>
<polygon points="950.8,449.8 956.2,446.7 959.4,450.4 958.9,454.9 954.4,456.7 951.1,454.0" fill="url(#bg2)"/>
<polygon points="965.1,447.0 968.0,450.4 966.0,454.1 962.0,456.0 957.1,452.1 960.5,447.0" fill="url(#bg2)"/>
<polygon points="963.9,463.4 959.6,465.2 956.3,460.8 958.9,454.6 963.7,456.8" fill="url(#bg2)"/>
<polygon points="959.1,438.3 963.4,436.0 967.8,439.0 968.1,444.4 964.1,446.5 959.4,442.5" fill="url(#bg1)"/>
<polygon points="970.8,393.0 973.8,386.4 979.1,384.8 982.3,393.6 978.1,395.5" fill="url(#bg2)"/>
<polygon points="982.1,381.8 986.8,382.0 987.5,388.9 986.2,392.5 978.8,389.9 978.0,385.2" fill="url(#bg3)"/>
<polygon points="972.0,387.9 973.9,381.9 978.7,379.8 983.0,384.8 983.7,389.0 978.6,392.8" fill="url(#bg1)"/>
<polygon points="1014.2,387.9 1018.3,388.8 1018.3,395.0 1014.1,397.9 1009.4,396.6 1009.1,389.8" fill="url(#bg3)"/>
<polygon points="1024.3,395.2 1021.4,393.4 1019.0,388.9 1023.3,385.3 1026.6,385.1 1030.2,388.1 1030.3,392.9" fill="url(#bg3)"/>
<polygon points="1010.5,396.4 1013.5,390.2 1017.6,390.0 1021.5,393.4 1019.3,399.8 1014.7,400.4" fill="url(#bg2)"/>
<polygon points="1019.1,395.4 1015.1,395.3 1012.7,389.1 1016.7,386.5 1022.1,389.7" fill="url(#bg2)"/>
<polygon points="996.6,390.1 1000.7,387.1 1004.3,389.7 1005.0,393.7 1001.4,397.0 996.8,394.7" fill="url(#bg2)"/>
<polygon points="1019.1,385.0 1022.2,381.5 1026.9,384.6 1026.2,389.7 1021.0,390.6" fill="url(#bg1)"/>
<polygon points="999.9,400.0 994.5,400.1 992.5,396.1 995.2,391.8 999.3,391.7 1003.3,394.7" fill="url(#bg2)"/>
<polygon points="996.5,381.1 999.0,379.6 1002.1,382.5 1003.4,387.2 1000.6,388.5 996.5,389.4 994.5,385.3" fill="url(#bg1)"/>
<polygon points="1011.2,389.1 1017.4,386.4 1021.2,391.8 1018.9,396.2 1014.6,396.5 1010.7,392.8" fill="url(#bg2)"/>
<polygon points="1006.6,374.2 1005.3,378.8 1001.1,380.6 996.7,377.7 997.0,374.7 1000.4,370.9 1004.3,371.2" fill="url(#bg2)"/>
<polygon points="1018.5,372.9 1021.1,368.3 1026.9,370.2 1029.7,373.9 1027.4,378.0 1021.1,379.2" fill="url(#bg3)"/>
<polygon points="1043.4,387.3 1043.6,380.6 1050.9,381.1 1054.3,384.9 1048.5,391.3" fill="url(#bg1)"/>
<polygon points="1053.2,397.3 1050.1,399.5 1044.5,399.8 1043.9,395.1 1046.0,391.4 1051.8,393.2" fill="url(#bg1)"/>
<polygon points="1041.7,385.5 1040.1,389.6 1034.1,389.1 1032.8,385.1 1034.4,381.6 1040.5,382.1" fill="url(#bg3)"/>
<polygon points="1052.5,392.8 1051.3,396.4 1047.1,399.5 1042.8,398.6 1041.7,391.7 1046.1,389.3" fill="url(#bg1)"/>
<polygon points="1041.7,393.6 1044.7,387.8 1049.4,387.3 1051.7,391.7 1049.9,396.4 1044.4,396.0" fill="url(#bg1)"/>
<polygon points="1034.3,402.6 1038.7,402.0 1041.3,404.5 1039.6,411.8 1035.2,413.0 1031.5,410.9 1030.1,404.4" fill="url(#bg1)"/>
<polygon points="1036.8,405.4 1040.5,407.9 1042.1,413.7 1037.5,415.5 1033.3,414.2 1032.3,409.5" fill="url(#bg2)"/>
<polygon points="1039.9,409.4 1036.8,413.4 1033.2,414.4 1030.0,412.3 1030.1,407.8 1033.1,405.3 1037.4,406.0" fill="url(#bg3)"/>
<polygon points="1045.5,417.3 1040.0,412.3 1043.7,406.4 1049.1,407.6 1050.0,414.0" fill="url(#bg1)"/>
<polygon points="1050.6,407.9 1053.9,412.3 1052.0,418.2 1048.2,420.2 1043.4,415.0 1046.8,409.6" fill="url(#bg2)"/>
<polygon points="1045.3,401.7 1048.3,403.8 1048.1,408.8 1043.5,411.4 1040.3,409.2 1039.4,406.8 1040.9,401.4" fill="url(#bg2)"/>
<polygon points="1040.5,414.5 1045.5,416.9 1045.3,421.5 1040.7,424.3 1036.7,422.7 1036.7,416.1" fill="url(#bg1)"/>
<polygon points="1017.3,411.7 1021.5,408.5 1025.6,411.1 1026.3,414.9 1024.5,416.7 1021.2,417.8 1016.7,414.9" fill="url(#bg1)"/>
<polygon points="1022.9,417.1 1018.8,414.1 1019.4,409.9 1023.0,405.4 1026.3,407.1 1028.8,411.8 1026.5,416.7" fill="url(#bg1)"/>
<polygon points="1012.5,413.8 1010.3,409.5 1014.7,405.7 1018.3,406.9 1020.4,410.3 1018.8,414.1 1014.2,415.2" fill="url(#bg2)"/>
<polygon points="1019.4,462.0 1017.5,458.6 1020.5,454.4 1024.1,454.8 1026.7,458.9 1024.5,461.9" fill="url(#bg1)"/>
<polygon points="1014.6,447.1 1018.7,446.3 1023.5,450.0 1020.1,456.8 1015.5,456.6 1012.1,452.9" fill="url(#bg2)"/>
<polygon points="1013.5,446.1 1017.4,451.3 1014.1,455.6 1008.6,454.5 1008.7,448.1" fill="url(#bg2)"/>
<polygon points="1022.6,453.0 1017.3,450.8 1017.5,446.8 1019.3,443.4 1025.7,443.9 1028.5,445.6 1027.9,452.0" fill="url(#bg2)"/>
<polygon points="1017.4,443.1 1018.7,450.0 1012.3,453.0 1009.0,447.5 1011.4,442.5" fill="url(#bg3)"/>
<polygon points="1019.1,451.6 1013.7,448.8 1014.4,442.3 1019.5,440.6 1022.0,447.0" fill="url(#bg1)"/>
<polygon points="1040.4,457.7 1035.5,458.0 1033.0,453.2 1034.1,449.8 1039.0,448.6 1042.2,450.4 1042.8,455.3" fill="url(#bg2)"/>
<polygon points="1051.3,454.6 1045.6,456.2 1042.6,451.2 1043.7,446.7 1049.4,445.5 1051.9,449.4" fill="url(#bg1)"/>
<polygon points="1045.5,442.3 1047.6,448.6 1044.8,451.2 1040.0,451.6 1037.2,445.4 1039.1,441.3" fill="url(#bg3)"/>
<polygon points="1034.9,457.4 1034.6,451.4 1040.9,450.3 1042.3,455.3 1038.0,458.8" fill="url(#bg1)"/>
<polygon points="1037.8,450.2 1034.1,444.2 1038.6,438.6 1044.2,440.7 1044.7,448.6" fill="url(#bg1)"/>
<polygon points="1069.6,417.0 1074.0,417.8 1076.3,422.6 1072.7,428.0 1066.7,426.5 1064.7,423.7 1065.6,417.4" fill="url(#bg3)"/>
<polygon points="1072.0,424.8 1070.3,427.2 1063.8,424.7 1063.5,420.0 1066.6,416.9 1071.8,419.5" fill="url(#bg3)"/>
<polygon points="1080.7,443.8 1078.0,439.4 1083.1,434.6 1088.7,437.4 1088.1,443.5" fill="url(#bg1)"/>
<polygon points="1077.4,433.0 1078.5,439.1 1072.9,439.9 1068.8,435.6 1072.2,431.7" fill="url(#bg1)"/>
<polygon points="1080.4,435.8 1086.5,433.7 1090.9,438.3 1088.7,442.5 1080.8,442.2" fill="url(#bg3)"/>
<polygon points="1063.5,437.0 1067.1,433.0 1071.5,431.3 1074.6,435.8 1073.0,440.7 1068.2,441.6" fill="url(#bg3)"/>
<polygon points="1079.4,438.9 1074.6,436.9 1074.8,431.6 1081.5,429.5 1084.4,434.0" fill="url(#bg3)"/>
<polygon points="1088.1,430.3 1091.3,434.8 1089.0,440.2 1083.7,439.5 1081.4,435.4 1083.3,431.8" fill="url(#bg2)"/>
<polygon points="1096.4,414.8 1096.2,421.6 1091.7,423.7 1086.9,417.3 1089.8,413.7" fill="url(#bg3)"/>
<polygon points="1100.0,428.9 1104.8,426.8 1109.1,431.8 1105.9,435.8 1100.3,434.8" fill="url(#bg1)"/>
<polygon points="1110.7,439.7 1107.2,441.9 1101.7,439.8 1102.6,436.5 1107.5,432.6 1110.6,435.7" fill="url(#bg3)"/>
<polygon points="1110.3,438.0 1105.0,437.9 1101.7,435.9 1100.4,430.5 1105.1,426.0 1109.6,428.2 1111.5,432.0" fill="url(#bg3)"/>
<polygon points="1114.5,424.7 1119.3,429.3 1117.0,436.3 1109.6,436.4 1107.4,432.3 1109.1,426.0" fill="url(#bg2)"/>
<polygon points="1107.1,431.5 1108.1,436.8 1104.1,440.5 1098.0,439.0 1097.0,433.4 1102.4,429.5" fill="url(#bg1)"/>
<polygon points="1112.8,445.7 1109.5,441.3 1110.5,437.9 1114.8,435.7 1119.2,438.7 1118.3,443.7 1114.8,446.8" fill="url(#bg2)"/>
<polygon points="1136.1,437.6 1135.4,441.6 1131.3,442.4 1127.0,439.1 1129.5,434.5 1132.3,433.4" fill="url(#bg3)"/>
<polygon points="1135.8,431.9 1134.7,436.3 1129.9,438.1 1127.8,432.8 1132.9,429.6" fill="url(#bg3)"/>
<polygon points="1134.4,447.4 1130.7,444.9 1129.6,439.9 1133.5,436.2 1139.0,438.0 1140.0,442.5" fill="url(#bg1)"/>
<polygon points="1136.6,442.6 1131.3,441.2 1131.1,437.2 1136.7,434.0 1140.1,437.2" fill="url(#bg3)"/>
<polygon points="1126.1,440.6 1127.1,436.2 1130.0,432.2 1135.8,435.1 1135.5,439.8 1130.9,443.0" fill="url(#bg2)"/>
<polygon points="1133.8,446.7 1134.0,441.4 1137.7,438.3 1142.9,441.3 1143.4,444.8 1139.2,448.9" fill="url(#bg2)"/>
</g></g>
<g id="faucet" stroke="#121212" fill="none" stroke-width="3.3" stroke-linecap="round" stroke-linejoin="round">
<use href="#fauctop"/>
<path d="M637.5,931.7 Q670,935 699.4,952.4"/>
<path d="M547.4,1025.2 L603,1024.6 Q615,1026 621,1030.7"/>
<path d="M572.9,952.4 V1013 M608.6,964 H653.3 M668.4,966 L678,970 M601.75,1015 L627.9,1015" stroke-width="2.6"/>
<path d="M500,942.75 H520.6 M500,1019.7 H520.6"/>
</g>
<g id="faucI" stroke="#121212" fill="none" stroke-width="4.8" stroke-linecap="round" stroke-linejoin="round" transform="matrix(0.57,0,0,0.57,855.8,-126.9)">
<use href="#fauctop"/>
<path d="M637.5,931.7 Q650,932 653,940 L653,1020 Q640,1027 610,1025 L547.4,1025.2"/>
<path d="M653,938 L667,938 Q670,945 670,955 L670,1010 Q669,1018 653,1018" />
<path d="M572.9,958 V1013 M640,958 V1013" stroke-width="4"/>
</g>

<g id="buster" stroke="#121212" fill="none" stroke-width="3.4" stroke-linecap="round" stroke-linejoin="round">
<path d="M684,1089 L770,1170 Q778,1176 787.5,1166 L835,1127.5"/>
<path d="M767,1016 Q800,1018 843.75,1022 Q850,1020 851,1005 Q853,996 862,995.6 L890,995.6 Q894.4,997 894.4,1005 L894.4,1118 Q893,1125 886,1125 L856,1125 Q849,1124 849,1118 L849,1108 Q848,1101 843,1101 Q838,1102 839,1110 Q840,1118 835,1127.5"/>
<path d="M860,1013 L860,1068" stroke-width="2.6"/>
<path d="M767,1046 L815.6,1087.5" stroke-width="2.6"/>
</g>
<g id="cap" transform="matrix(0.736,-0.677,0.677,0.736,615,1037)" stroke="#121212" fill="#fff" stroke-linecap="round" stroke-linejoin="round">
<path d="M0,0 L132,0 Q137,0 138,5 L138,68 L0,68 Z" stroke-width="4"/>
<path d="M-5,68 L143,68 Q145,70 143,74 L-5,74 Q-7,71 -5,68 Z" stroke-width="3.6"/>
<path d="M51,0 L56,68 M121,0 L123,68 M4,5 L51,5 M13,50 L46,51 M63,51 L116,57 M122,47 L137,47" fill="none" stroke-width="3"/>
<path d="M14.0,9 L15.0,44 M18.6,9 L19.6,44 M23.2,9 L24.2,44 M27.8,9 L28.8,44 M32.4,9 L33.4,44 M37.0,9 L38.0,44 M41.6,9 L42.6,44 M62.0,5 L63.0,47 M66.3,5 L67.3,47 M70.6,5 L71.6,47 M74.9,5 L75.9,47 M79.2,5 L80.2,47 M83.5,5 L84.5,47 M87.8,5 L88.8,47 M92.1,5 L93.1,47 M96.4,5 L97.4,47 M100.7,5 L101.7,47 M105.0,5 L106.0,47 M109.3,5 L110.3,47 M113.6,5 L114.6,47 M124.0,6 L124.5,38 M127.6,6 L128.1,38 M131.2,6 L131.7,38 M134.8,6 L135.3,38" fill="none" stroke-width="2.6"/>
</g>
<path d="M753.75,1083.75 L793.75,1087.5 L782.5,1097.5 L815,1135 L798.75,1150 L766.25,1113.75 L753,1122.5 Z" fill="#bdd5e8" stroke="none"/>
<path d="M815,1133 L782.5,1097.5 L793.75,1087.5 L753.75,1083.75 L753,1122.5 L766.25,1113.75 L797,1149" fill="none" stroke="#121212" stroke-width="3.4" stroke-linejoin="round" stroke-linecap="round"/>


<g id="valve" stroke="#121212" fill="none" stroke-width="3.4" stroke-linecap="round" stroke-linejoin="round">
<path d="M896.3,1013.5 Q905,1010 912,1000 Q920,992 934.4,992.7 Q950,996 961.6,1001.75 L1016,1002.7"/>
<path d="M903.6,1018 Q930,1022 945,1016 Q955,1010 961.6,1007" stroke-width="3"/>
<circle cx="928" cy="1004.5" r="5" stroke-width="2.8"/>
<path d="M901.75,1113 Q925,1108 945,1116 Q955,1122 959.75,1125" stroke-width="3"/>
<path d="M896,1120 Q905,1132 916,1137.7 L1010.5,1132"/>
<circle cx="920.8" cy="1125" r="5" stroke-width="2.8"/>
<path d="M1016,998 L1055,996 Q1068,1000 1068.5,1010.8 L1068.5,1143 L1014,1139.5 Q1012,1133 1016,1128"/>
<ellipse cx="1006.9" cy="1067" rx="57" ry="60" fill="#a9a9a9"/>
<path d="M995,1010 Q1006,1001 1017,1010 Q1022,1040 1025,1056 Q1020,1075 1019,1095 Q1018,1120 1006,1123 Q996,1122 994,1110 Q993,1080 986,1060 Q990,1035 995,1010 Z" fill="#b9b9b9"/>
<path d="M990,1012 Q982,1040 984,1055 Q990,1080 990,1105 Q992,1118 1000,1124" stroke-width="2.6"/>
<path d="M972,1033 L977,1040 M1033,1031 L1040,1043 M972,1092 L977,1099 M1043,1092 L1038,1099" stroke-width="2.2"/>
<path d="M1070,1025 L1108,1025 L1108,1119.6 L1070,1119.6"/>
<path d="M1077.6,1028 V1117 M1086.6,1028 V1117 M1095.7,1028 V1117 M1103,1028 V1117" stroke-width="2.4"/>
<rect x="1108.4" y="1021.7" width="50.6" height="108.7" rx="2"/>
<path d="M1113.8,1028 V1125 M1126.5,1030 V1122 M1141,1030 V1122" stroke-width="2.4"/>
</g>
<g fill="#121212" font-family="Liberation Sans" font-weight="bold" font-size="10">
<text transform="translate(971,1080) rotate(-80)">OFF</text>
<text transform="translate(1041,1056) rotate(90)">ON</text>
</g>

<g id="hose" stroke="#121212" fill="none" stroke-width="3.6" stroke-linecap="round" stroke-linejoin="round">
<path d="M1411,1468.7 Q1460,1455 1520,1453.7 Q1590,1458 1595,1483.7 Q1595,1512 1568.7,1525 Q1520,1545 1467.5,1547.5 Q1400,1548 1385,1525 Q1375,1510 1377.5,1498.7 Q1380,1478 1411,1468.7"/>
<path d="M1449,1470 Q1430,1472 1426,1476 Q1405,1485 1400,1498.7 Q1400,1520 1411,1525 Q1440,1534 1475,1532.5 Q1530,1527 1561,1513.7 Q1580,1500 1572.5,1487.5 Q1560,1470 1530,1468"/>
<path d="M1427,1515 L1433,1506 M1447,1524 L1461,1506 M1475,1523 L1489,1505 M1505,1520 L1525,1498 M1535,1513 L1553,1494 M1557,1505 L1566,1497" stroke-width="3"/>
<path d="M1159,1041.6 C1240,1075 1330,1130 1390,1215 C1440,1290 1490,1400 1523.7,1491 L1454,1500.5 C1430,1430 1390,1360 1350,1290 C1300,1210 1230,1140 1159,1112.3 Z" fill="#fff" stroke="none"/>
<path d="M1159,1041.6 C1240,1075 1330,1130 1390,1215 C1440,1290 1490,1400 1523.7,1491"/>
<path d="M1159,1112.3 C1230,1140 1300,1210 1350,1290 C1390,1360 1430,1430 1454,1500.5"/>
<path d="M1454,1500.5 L1523.7,1491"/>
</g>
<g id="pump" stroke="#121212" fill="none" stroke-width="4.2" stroke-linecap="round" stroke-linejoin="round">
<path d="M535,1157 L693,1157 Q700,1158 700,1166 L700,1173 Q699,1180 692,1180 L634,1180 Q628,1181 628,1187 L606,1187 Q604,1181 598,1180 L535,1181 Q528,1180 528,1173 L528,1165 Q529,1157 535,1157 Z"/>
<path d="M608.5,1187 V1205 M622,1187 V1205" stroke-width="3"/>
<path d="M592,1212 Q600,1203 616,1203 Q634,1203 642,1212"/>
<path d="M587.5,1222 Q590,1212 616,1212 Q642,1212 645.6,1222 Q643,1231 616,1231 Q590,1231 587.5,1222 Z"/>
<path d="M587.5,1222 V1565 M645.6,1222 V1567" stroke-width="5"/>
<path d="M524,1597 Q530,1580 545,1576 Q565,1571 574,1570 Q580,1566 584,1566 M652,1569 Q656,1570 658,1572 Q690,1578 703.7,1590 Q708,1596 710,1600 M574,1571 L573,1580 M653,1571 L654,1580"/>
<path d="M587.5,1565 Q600,1578 617,1579 Q635,1578 645.6,1567" stroke-width="4.5"/>
<path d="M584,1587 Q617,1598 650,1589" stroke-width="3.4" stroke="#444"/>
<path d="M645.6,1522 L656,1522 L656,1557 L645.6,1557 M668,1529 V1550 M656,1529 H668 M656,1550 H668" stroke-width="3"/>
<path d="M851,1209 C905,1250 960,1310 957,1405 C956,1465 900,1505 824.7,1518.6 Q740,1524 668,1529"/>
<path d="M866.7,1190.5 C925,1240 985,1310 985,1400 C985,1470 940,1510 880,1525 Q800,1545 668,1550"/>
<path d="M837.5,1155 Q845,1160 846,1166 L866,1190 M816,1177.5 Q822,1180 826,1185 L849,1207 M837.5,1155 A30,29 0 1 0 816,1177.5" stroke-width="3"/>
<path d="M843.8,1168.2 L828.2,1183.8 M849.3,1173.7 L833.7,1189.3 M854.8,1179.2 L839.2,1194.8 M860.3,1184.7 L844.7,1200.3 M865.8,1190.2 L850.2,1205.8" stroke-width="2.8"/>

</g>
<path d="M746,1525 L806,1522 L806,1506 L824.7,1537 L806,1567 L806,1547 L746,1548 Z" fill="#bdd5e8"/>
<path d="M746,1524 L806,1521 L806,1506 L824.7,1537 L806,1567 L806,1547 L746,1548" fill="none" stroke="#121212" stroke-width="3.4" stroke-linejoin="round"/>

<g id="red" stroke="#ee3527" fill="none" stroke-linecap="round" stroke-linejoin="round">
<rect x="675.7" y="6" width="580.3" height="670" stroke-width="7.5" stroke-linejoin="miter"/>
<path d="M1259,33 L1505.5,497.5" stroke-width="5.6"/>
<path d="M1256,672 L1509,597" stroke-width="7"/>
<rect x="1428.1" y="497.5" width="77.25" height="97.5" stroke-width="7.3" stroke-linejoin="miter"/>
<path d="M982,687 V404" stroke-width="15"/>
<path d="M936,432 L979,401 L1023,429" stroke-width="13"/>
<path d="M1093.5,904 L1056,1000" stroke-width="8"/>
<path d="M1051,987 L1055,1006 L1078,1000" stroke-width="10"/>
<path d="M424.4,1453 L548,1455" stroke-width="8.5"/>
<path d="M531,1437 L550,1455 L528,1473" stroke-width="10.5"/>
<path d="M771,1298 L811,1228" stroke-width="8"/>
<path d="M792,1233 L813,1224 L818,1244" stroke-width="10"/>
<path d="M1100,1497 L1016,1456" stroke-width="8"/>
<path d="M1040,1448 L1014,1453 L1023,1478" stroke-width="10"/>
</g>

<g id="hand" fill="none" stroke="#111" stroke-linecap="round" stroke-linejoin="round">
<g stroke-width="3.7" style="vector-effect:non-scaling-stroke"><g transform="translate(719.6,745.1) scale(0.4822,0.3990) skewX(-5)">
<path vector-effect="non-scaling-stroke" transform="translate(0.0,0)" d="M 50,-66.0 C 42,-74.0 18,-76.0 10,-64.0 C 2,-52.0 16,-44.0 30,-38.0 C 46,-31.0 52,-22.0 47,-11.0 C 40,2.0 14,2.0 0,-8.0"/>
<path vector-effect="non-scaling-stroke" transform="translate(63.6,0)" d="M 4,-18.5 C 20,-18.5 38,-23.5 38,-31.9 C 38,-40.3 26,-43.2 18,-41.2 C 5,-38.6 0,-25.2 0,-16.8 C 0,-5.0 10,0.0 22,0.0 C 30,0.0 36,-2.5 40,-6.7"/>
<path vector-effect="non-scaling-stroke" transform="translate(115.2,0)" d="M 40,-33.6 C 32,-42.0 14,-44.5 6,-33.6 C -2,-23.5 0,-3.4 14,-0.8 C 26,1.8 38,-8.4 40,-20.2 M 48,-74.0 L 42,-3.4 C 42,0.9 46,0.9 50,-2.5"/>
<path vector-effect="non-scaling-stroke" transform="translate(176.8,0)" d="M 6,-40.3 L 3,0.0 M 9,-64.2 L 9,-62.9"/>
<path vector-effect="non-scaling-stroke" transform="translate(197.3,0)" d="M 5,-42.0 L 1,0.0 M 3,-23.5 C 8,-37.0 16,-42.0 25,-42.0 C 35,-42.0 38,-35.3 37,-25.2 L 35,0.0 M 37,-26.9 C 42,-38.6 50,-42.0 59,-42.0 C 70,-42.0 72,-33.6 70,-23.5 L 68,-5.0 C 68,-0.8 72,-0.8 78,-5.0"/>
<path vector-effect="non-scaling-stroke" transform="translate(286.9,0)" d="M 4,-18.5 C 20,-18.5 38,-23.5 38,-31.9 C 38,-40.3 26,-43.2 18,-41.2 C 5,-38.6 0,-25.2 0,-16.8 C 0,-5.0 10,0.0 22,0.0 C 30,0.0 36,-2.5 40,-6.7"/>
<path vector-effect="non-scaling-stroke" transform="translate(338.5,0)" d="M 5,-42.0 L 1,0.0 M 3,-21.8 C 10,-35.3 20,-42.0 32,-42.0 C 44,-42.0 48,-33.6 46,-23.5 L 44,-5.0 C 44,-0.8 48,-0.8 54,-5.0"/>
<path vector-effect="non-scaling-stroke" transform="translate(404.1,0)" d="M 20,-64.2 L 12,-8.4 C 11,-0.8 18,0.9 30,-2.5 M 0,-37.0 L 38,-38.6"/>
<path vector-effect="non-scaling-stroke" transform="translate(490.1,0)" d="M 0,0.0 C 12,-24.0 24,-50.0 34,-72.0 C 42,-50.0 52,-24.0 62,0.0 M 14,-26.0 L 52,-30.0"/>
<path vector-effect="non-scaling-stroke" transform="translate(563.7,0)" d="M 5,-42.0 L 1,0.0 M 3,-21.8 C 10,-35.3 20,-42.0 32,-42.0 C 44,-42.0 48,-33.6 46,-23.5 L 44,-5.0 C 44,-0.8 48,-0.8 54,-5.0"/>
<path vector-effect="non-scaling-stroke" transform="translate(629.3,0)" d="M 40,-33.6 C 32,-42.0 14,-44.5 6,-33.6 C -2,-23.5 0,-3.4 14,-0.8 C 26,1.8 38,-8.4 40,-20.2 M 48,-74.0 L 42,-3.4 C 42,0.9 46,0.9 50,-2.5"/>
<path vector-effect="non-scaling-stroke" transform="translate(727.3,0)" d="M 0,0.0 L 8,-72.0 L 30,-28.0 L 52,-72.0 L 60,0.0"/>
<path vector-effect="non-scaling-stroke" transform="translate(798.8,0)" d="M 6,-40.3 L 3,0.0 M 9,-64.2 L 9,-62.9"/>
<path vector-effect="non-scaling-stroke" transform="translate(819.4,0)" d="M 5,-42.0 L 1,0.0 M 3,-21.8 C 10,-35.3 20,-42.0 32,-42.0 C 44,-42.0 48,-33.6 46,-23.5 L 44,-5.0 C 44,-0.8 48,-0.8 54,-5.0"/>
<path vector-effect="non-scaling-stroke" transform="translate(885.0,0)" d="M 4,-18.5 C 20,-18.5 38,-23.5 38,-31.9 C 38,-40.3 26,-43.2 18,-41.2 C 5,-38.6 0,-25.2 0,-16.8 C 0,-5.0 10,0.0 22,0.0 C 30,0.0 36,-2.5 40,-6.7"/>
<path vector-effect="non-scaling-stroke" transform="translate(936.6,0)" d="M 5,-42.0 L 1,0.0 M 3,-23.5 C 8,-35.3 18,-42.0 34,-40.3"/>
<path vector-effect="non-scaling-stroke" transform="translate(982.2,0)" d="M 38,-35.3 C 30,-44.5 12,-42.0 5,-30.2 C -2,-18.5 2,-1.7 15,-0.8 C 27,0.0 36,-11.8 38,-23.5 M 41,-42.0 L 38,-3.4 C 38,0.9 43,0.0 47,-3.4"/>
<path vector-effect="non-scaling-stroke" transform="translate(1040.8,0)" d="M 10,-74.0 L 3,-5.0 C 3,0.0 9,0.9 16,-1.7"/>
<path vector-effect="non-scaling-stroke" transform="translate(1068.3,0)" d="M 34,-38.6 C 26,-44.5 8,-42.0 8,-31.9 C 8,-21.8 36,-23.5 36,-10.9 C 36,0.0 16,2.7 0,-3.4"/>
</g></g>
<g stroke-width="5.4" style="vector-effect:non-scaling-stroke"><g transform="translate(917.3,886.4) scale(0.7346,0.7430) skewX(-5)">
<path vector-effect="non-scaling-stroke" transform="translate(0.0,0)" d="M 24,-42.0 C 8,-42.0 0,-28.6 1,-16.8 C 2,-5.0 10,0.0 20,0.0 C 34,0.0 42,-13.4 42,-25.2 C 42,-37.0 34,-42.0 24,-42.0 Z"/>
<path vector-effect="non-scaling-stroke" transform="translate(56.2,0)" d="M 40,-69.1 C 34,-76.5 24,-74.0 21,-59.2 L 15,0.0 M 3,-37.0 L 36,-38.6"/>
<path vector-effect="non-scaling-stroke" transform="translate(110.3,0)" d="M 40,-69.1 C 34,-76.5 24,-74.0 21,-59.2 L 15,0.0 M 3,-37.0 L 36,-38.6"/>
<path vector-effect="non-scaling-stroke" transform="translate(190.8,0)" d="M 8,-42.0 L 2,23.4 M 6,-30.2 C 14,-40.3 26,-44.5 36,-42.0 C 48,-38.6 48,-21.8 42,-11.8 C 36,-1.7 18,-1.7 6,-6.7"/>
<path vector-effect="non-scaling-stroke" transform="translate(250.9,0)" d="M 24,-42.0 C 8,-42.0 0,-28.6 1,-16.8 C 2,-5.0 10,0.0 20,0.0 C 34,0.0 42,-13.4 42,-25.2 C 42,-37.0 34,-42.0 24,-42.0 Z"/>
<path vector-effect="non-scaling-stroke" transform="translate(307.1,0)" d="M 34,-38.6 C 26,-44.5 8,-42.0 8,-31.9 C 8,-21.8 36,-23.5 36,-10.9 C 36,0.0 16,2.7 0,-3.4"/>
<path vector-effect="non-scaling-stroke" transform="translate(357.3,0)" d="M 6,-40.3 L 3,0.0 M 9,-64.2 L 9,-62.9"/>
<path vector-effect="non-scaling-stroke" transform="translate(380.4,0)" d="M 20,-64.2 L 12,-8.4 C 11,-0.8 18,0.9 30,-2.5 M 0,-37.0 L 38,-38.6"/>
<path vector-effect="non-scaling-stroke" transform="translate(432.6,0)" d="M 6,-40.3 L 3,0.0 M 9,-64.2 L 9,-62.9"/>
<path vector-effect="non-scaling-stroke" transform="translate(455.7,0)" d="M 24,-42.0 C 8,-42.0 0,-28.6 1,-16.8 C 2,-5.0 10,0.0 20,0.0 C 34,0.0 42,-13.4 42,-25.2 C 42,-37.0 34,-42.0 24,-42.0 Z"/>
<path vector-effect="non-scaling-stroke" transform="translate(511.9,0)" d="M 5,-42.0 L 1,0.0 M 3,-21.8 C 10,-35.3 20,-42.0 32,-42.0 C 44,-42.0 48,-33.6 46,-23.5 L 44,-5.0 C 44,-0.8 48,-0.8 54,-5.0"/>
</g></g>
<g stroke-width="3.8" style="vector-effect:non-scaling-stroke"><g transform="translate(189.8,1456.9) scale(0.5477,0.4180) skewX(-5)">
<path vector-effect="non-scaling-stroke" transform="translate(0.0,0)" d="M 0,0.0 C 12,-24.0 24,-50.0 34,-72.0 C 42,-50.0 52,-24.0 62,0.0 M 14,-26.0 L 52,-30.0"/>
<path vector-effect="non-scaling-stroke" transform="translate(72.7,0)" d="M 6,-40.3 L 3,0.0 M 9,-64.2 L 9,-62.9"/>
<path vector-effect="non-scaling-stroke" transform="translate(92.4,0)" d="M 5,-42.0 L 1,0.0 M 3,-23.5 C 8,-35.3 18,-42.0 34,-40.3"/>
<path vector-effect="non-scaling-stroke" transform="translate(166.1,0)" d="M 8,-72.0 L 1,0.0 M 7,-72.0 C 24,-76.0 48,-72.0 48,-54.0 C 48,-36.0 24,-32.0 5,-34.0"/>
<path vector-effect="non-scaling-stroke" transform="translate(224.7,0)" d="M 5,-42.0 L 3,-11.8 C 3,-1.7 11,0.9 20,0.0 C 30,-1.7 38,-11.8 40,-25.2 M 41,-42.0 L 38,-3.4 C 38,0.9 43,0.0 48,-3.4"/>
<path vector-effect="non-scaling-stroke" transform="translate(283.4,0)" d="M 5,-42.0 L 1,0.0 M 3,-23.5 C 8,-37.0 16,-42.0 25,-42.0 C 35,-42.0 38,-35.3 37,-25.2 L 35,0.0 M 37,-26.9 C 42,-38.6 50,-42.0 59,-42.0 C 70,-42.0 72,-33.6 70,-23.5 L 68,-5.0 C 68,-0.8 72,-0.8 78,-5.0"/>
<path vector-effect="non-scaling-stroke" transform="translate(372.1,0)" d="M 8,-42.0 L 2,23.4 M 6,-30.2 C 14,-40.3 26,-44.5 36,-42.0 C 48,-38.6 48,-21.8 42,-11.8 C 36,-1.7 18,-1.7 6,-6.7"/>
</g></g>
<g stroke-width="2.6" style="vector-effect:non-scaling-stroke"><g transform="translate(648.9,1353.2) scale(0.3463,0.2570) skewX(-5)">
<path vector-effect="non-scaling-stroke" transform="translate(0.0,0)" d="M 50,-66.0 C 42,-74.0 18,-76.0 10,-64.0 C 2,-52.0 16,-44.0 30,-38.0 C 46,-31.0 52,-22.0 47,-11.0 C 40,2.0 14,2.0 0,-8.0"/>
<path vector-effect="non-scaling-stroke" transform="translate(62.4,0)" d="M 4,-18.5 C 20,-18.5 38,-23.5 38,-31.9 C 38,-40.3 26,-43.2 18,-41.2 C 5,-38.6 0,-25.2 0,-16.8 C 0,-5.0 10,0.0 22,0.0 C 30,0.0 36,-2.5 40,-6.7"/>
<path vector-effect="non-scaling-stroke" transform="translate(112.8,0)" d="M 40,-33.6 C 32,-42.0 14,-44.5 6,-33.6 C -2,-23.5 0,-3.4 14,-0.8 C 26,1.8 38,-8.4 40,-20.2 M 48,-74.0 L 42,-3.4 C 42,0.9 46,0.9 50,-2.5"/>
<path vector-effect="non-scaling-stroke" transform="translate(173.2,0)" d="M 6,-40.3 L 3,0.0 M 9,-64.2 L 9,-62.9"/>
<path vector-effect="non-scaling-stroke" transform="translate(192.6,0)" d="M 5,-42.0 L 1,0.0 M 3,-23.5 C 8,-37.0 16,-42.0 25,-42.0 C 35,-42.0 38,-35.3 37,-25.2 L 35,0.0 M 37,-26.9 C 42,-38.6 50,-42.0 59,-42.0 C 70,-42.0 72,-33.6 70,-23.5 L 68,-5.0 C 68,-0.8 72,-0.8 78,-5.0"/>
<path vector-effect="non-scaling-stroke" transform="translate(280.9,0)" d="M 4,-18.5 C 20,-18.5 38,-23.5 38,-31.9 C 38,-40.3 26,-43.2 18,-41.2 C 5,-38.6 0,-25.2 0,-16.8 C 0,-5.0 10,0.0 22,0.0 C 30,0.0 36,-2.5 40,-6.7"/>
<path vector-effect="non-scaling-stroke" transform="translate(331.3,0)" d="M 5,-42.0 L 1,0.0 M 3,-21.8 C 10,-35.3 20,-42.0 32,-42.0 C 44,-42.0 48,-33.6 46,-23.5 L 44,-5.0 C 44,-0.8 48,-0.8 54,-5.0"/>
<path vector-effect="non-scaling-stroke" transform="translate(395.7,0)" d="M 20,-64.2 L 12,-8.4 C 11,-0.8 18,0.9 30,-2.5 M 0,-37.0 L 38,-38.6"/>
<path vector-effect="non-scaling-stroke" transform="translate(482.7,0)" d="M 9,-74.0 L 3,-1.7 M 5,-25.2 C 11,-38.6 24,-44.5 34,-40.3 C 46,-35.3 44,-10.1 32,-2.5 C 22,2.7 9,0.0 4,-5.0"/>
<path vector-effect="non-scaling-stroke" transform="translate(537.1,0)" d="M 5,-42.0 L 3,-11.8 C 3,-1.7 11,0.9 20,0.0 C 30,-1.7 38,-11.8 40,-25.2 M 41,-42.0 L 38,-3.4 C 38,0.9 43,0.0 48,-3.4"/>
<path vector-effect="non-scaling-stroke" transform="translate(595.5,0)" d="M 34,-38.6 C 26,-44.5 8,-42.0 8,-31.9 C 8,-21.8 36,-23.5 36,-10.9 C 36,0.0 16,2.7 0,-3.4"/>
<path vector-effect="non-scaling-stroke" transform="translate(641.9,0)" d="M 20,-64.2 L 12,-8.4 C 11,-0.8 18,0.9 30,-2.5 M 0,-37.0 L 38,-38.6"/>
<path vector-effect="non-scaling-stroke" transform="translate(690.3,0)" d="M 4,-18.5 C 20,-18.5 38,-23.5 38,-31.9 C 38,-40.3 26,-43.2 18,-41.2 C 5,-38.6 0,-25.2 0,-16.8 C 0,-5.0 10,0.0 22,0.0 C 30,0.0 36,-2.5 40,-6.7"/>
<path vector-effect="non-scaling-stroke" transform="translate(740.7,0)" d="M 5,-42.0 L 1,0.0 M 3,-23.5 C 8,-35.3 18,-42.0 34,-40.3"/>
<path vector-effect="non-scaling-stroke" transform="translate(785.0,0)" d="M 8,-74.0 C 10,-66.6 8,-56.8 2,-49.4"/>
<path vector-effect="non-scaling-stroke" transform="translate(805.4,0)" d="M 34,-38.6 C 26,-44.5 8,-42.0 8,-31.9 C 8,-21.8 36,-23.5 36,-10.9 C 36,0.0 16,2.7 0,-3.4"/>
</g></g>
<g stroke-width="2.6" style="vector-effect:non-scaling-stroke"><g transform="translate(726.2,1382.2) scale(0.3703,0.2570) skewX(-5)">
<path vector-effect="non-scaling-stroke" transform="translate(0.0,0)" d="M 38,-35.3 C 30,-44.5 12,-42.0 5,-30.2 C -2,-18.5 2,-1.7 15,-0.8 C 27,0.0 36,-11.8 38,-23.5 M 41,-42.0 L 38,-3.4 C 38,0.9 43,0.0 47,-3.4"/>
<path vector-effect="non-scaling-stroke" transform="translate(56.7,0)" d="M 6,-40.3 L 3,0.0 M 9,-64.2 L 9,-62.9"/>
<path vector-effect="non-scaling-stroke" transform="translate(75.4,0)" d="M 5,-42.0 L 1,0.0 M 3,-23.5 C 8,-35.3 18,-42.0 34,-40.3"/>
<path vector-effect="non-scaling-stroke" transform="translate(142.7,0)" d="M 0,-42.0 L 20,0.0 L 42,-42.0"/>
<path vector-effect="non-scaling-stroke" transform="translate(194.5,0)" d="M 38,-35.3 C 30,-44.5 12,-42.0 5,-30.2 C -2,-18.5 2,-1.7 15,-0.8 C 27,0.0 36,-11.8 38,-23.5 M 41,-42.0 L 38,-3.4 C 38,0.9 43,0.0 47,-3.4"/>
<path vector-effect="non-scaling-stroke" transform="translate(251.2,0)" d="M 10,-74.0 L 3,-5.0 C 3,0.0 9,0.9 16,-1.7"/>
<path vector-effect="non-scaling-stroke" transform="translate(276.9,0)" d="M 0,-42.0 L 20,0.0 L 42,-42.0"/>
<path vector-effect="non-scaling-stroke" transform="translate(328.6,0)" d="M 4,-18.5 C 20,-18.5 38,-23.5 38,-31.9 C 38,-40.3 26,-43.2 18,-41.2 C 5,-38.6 0,-25.2 0,-16.8 C 0,-5.0 10,0.0 22,0.0 C 30,0.0 36,-2.5 40,-6.7"/>
</g></g>
<g stroke-width="3.7" style="vector-effect:non-scaling-stroke"><g transform="translate(992.4,1536.2) scale(0.5534,0.3750) skewX(-5)">
<path vector-effect="non-scaling-stroke" transform="translate(0.0,0)" d="M 5,-72.0 L 0,0.0"/>
<path vector-effect="non-scaling-stroke" transform="translate(15.5,0)" d="M 5,-42.0 L 1,0.0 M 3,-21.8 C 10,-35.3 20,-42.0 32,-42.0 C 44,-42.0 48,-33.6 46,-23.5 L 44,-5.0 C 44,-0.8 48,-0.8 54,-5.0"/>
<path vector-effect="non-scaling-stroke" transform="translate(79.0,0)" d="M 12,-40.3 L 7,12.6 C 6,21.6 -6,25.2 -14,18.0 M 14,-64.2 L 14,-62.9"/>
<path vector-effect="non-scaling-stroke" transform="translate(102.5,0)" d="M 4,-18.5 C 20,-18.5 38,-23.5 38,-31.9 C 38,-40.3 26,-43.2 18,-41.2 C 5,-38.6 0,-25.2 0,-16.8 C 0,-5.0 10,0.0 22,0.0 C 30,0.0 36,-2.5 40,-6.7"/>
<path vector-effect="non-scaling-stroke" transform="translate(151.9,0)" d="M 36,-37.0 C 30,-44.5 13,-42.0 6,-30.2 C -2,-16.8 2,-1.7 17,0.0 C 27,0.9 34,-3.4 38,-6.7"/>
<path vector-effect="non-scaling-stroke" transform="translate(199.4,0)" d="M 20,-64.2 L 12,-8.4 C 11,-0.8 18,0.9 30,-2.5 M 0,-37.0 L 38,-38.6"/>
<path vector-effect="non-scaling-stroke" transform="translate(275.4,0)" d="M 38,-35.3 C 30,-44.5 12,-42.0 5,-30.2 C -2,-18.5 2,-1.7 15,-0.8 C 27,0.0 36,-11.8 38,-23.5 M 41,-42.0 L 38,-3.4 C 38,0.9 43,0.0 47,-3.4"/>
<path vector-effect="non-scaling-stroke" transform="translate(331.9,0)" d="M 6,-40.3 L 3,0.0 M 9,-64.2 L 9,-62.9"/>
<path vector-effect="non-scaling-stroke" transform="translate(350.4,0)" d="M 5,-42.0 L 1,0.0 M 3,-23.5 C 8,-35.3 18,-42.0 34,-40.3"/>
</g></g>
</g>
<g id="product">
<defs>
<linearGradient id="capG" x1="0" y1="0" x2="0" y2="1">
<stop offset="0" stop-color="#f6c81e"/><stop offset="0.5" stop-color="#f3c010"/><stop offset="1" stop-color="#eab40a"/>
</linearGradient>
<linearGradient id="rimG" x1="0" y1="0" x2="1" y2="0">
<stop offset="0" stop-color="#f7cd2a"/><stop offset="0.6" stop-color="#fad94e"/><stop offset="1" stop-color="#e9b410"/>
</linearGradient>
<linearGradient id="glassG" x1="0" y1="0" x2="0" y2="1">
<stop offset="0" stop-color="#f7f7f7"/><stop offset="0.5" stop-color="#f0f1f2"/><stop offset="1" stop-color="#e6e8ea"/>
</linearGradient>
<linearGradient id="brassG" x1="0" y1="0" x2="0" y2="1">
<stop offset="0" stop-color="#c9a24a"/><stop offset="0.5" stop-color="#a8802e"/><stop offset="1" stop-color="#7a5a1c"/>
</linearGradient>
<radialGradient id="knobG" cx="0.4" cy="0.35" r="0.7">
<stop offset="0" stop-color="#f8cd1c"/><stop offset="1" stop-color="#e3ad05"/>
</radialGradient>
</defs>
<!-- glass lower branch -->
<path d="M226,186 Q260,188 300,182 Q330,178 354,190 L343,206 Q320,225 296,252 Q270,232 240,203 Z" fill="url(#glassG)"/>
<!-- glass upper -->
<path d="M222,86 L352.75,92.5 Q362,96 363.5,110 L363,174 Q361,186 354.4,190 Q330,178 300,182 Q260,188 226,193 Z" fill="url(#glassG)"/>
<path d="M222,86 L352.75,92.5 Q362,96 363.5,110 L363,174 Q361,186 354.4,190" fill="none" stroke="#9a9ea2" stroke-width="2"/>
<path d="M357,100 Q362,140 358,185" fill="none" stroke="#6e7276" stroke-width="2.5"/>
<path d="M230,183 Q285,170 343,193" fill="none" stroke="#3e4246" stroke-width="3"/>
<path d="M268,173 Q300,172 330,183" fill="none" stroke="#55595d" stroke-width="2"/>
<path d="M240,203 L296,252" fill="none" stroke="#9ea2a6" stroke-width="2"/>
<path d="M300,225 Q320,205 345,200" fill="none" stroke="#5a5e62" stroke-width="2.5"/>
<!-- inner black valve in glass -->
<path d="M322,118 Q335,110 354,114 L355,176 Q340,182 322,172 Q318,145 322,118 Z" fill="#141618"/>
<path d="M326,130 Q332,125 345,127" stroke="#6a6e72" stroke-width="2" fill="none"/>
<!-- nozzle -->
<path d="M362,118.5 Q380,116 392,128 L411,131.5 L411.5,164 L392,165 Q380,176 365.5,174 Z" fill="#111"/>
<path d="M368,125 Q380,124 390,134" stroke="#555" stroke-width="1.5" fill="none"/>
<rect x="412" y="134.5" width="36.5" height="28" fill="url(#brassG)"/>
<path d="M416,135 L418,162 M421,135 L423,162 M426,135 L428,162 M431,135 L433,162 M436,135 L438,162 M441,135 L443,162 M446,135 L447,160" stroke="#5e4412" stroke-width="1.6"/>
<!-- yellow cap -->
<path d="M121.25,52.5 Q160,50 206,57.5 L206,215 Q160,222 121.25,215 Q113,208 112.5,200 Q104,170 100.6,127.5 Q103,85 112,62 Q116,54 121.25,52.5 Z" fill="url(#capG)"/>
<path d="M103,113.75 L206,113.75 L206,131 L101,131 Z" fill="#f8d030"/>
<path d="M110,68 H170 M107,79 H172 M105,90 H173 M104,101 H172 M102,142 H168 M103,154 H168 M105,166 H168 M107,178 H168 M109,190 H168 M112,201 H168" stroke="#d9a300" stroke-width="3.2"/>
<path d="M170,62 L177,62 L177,113 L170,113 Z M168,131 L175,131 L175,212 L168,212 Z" fill="#f9d440"/>
<path d="M201,59 Q222,62 228.75,77.5 L228.75,202.5 Q226,218 218.75,222.5 Q210,222 201,216 Z" fill="url(#rimG)"/>
<path d="M215,84 Q226,90 232,110 L232,195 Q228,205 215,206 Q212,150 215,84 Z" fill="#d8a412"/>
<path d="M219,92 Q228,100 230,120 L230,185 Q226,198 219,198 Z" fill="#c0902a" opacity="0.6"/>
<!-- black body -->
<path d="M298,266 L385,230 Q420,262 457,284 Q485,292 500,319 Q506,340 506,355 Q508,385 500,402 Q490,416 470,417 L440,418 L420,420 L380,380 L350,340 Q322,305 298,266 Z" fill="#111214"/>
<path d="M390,228 L430,226 Q437,232 437.5,257.5 L420,265 L395,250 Z" fill="#0e0f10"/>
<circle cx="412" cy="240" r="4" fill="#fff"/>
<path d="M313,292 L350,292 L352,336 L330,334 L313,322 Z" fill="#0e0f10"/>
<circle cx="327" cy="313" r="4" fill="#fff"/>
<path d="M395,292 Q430,300 455,330" stroke="#4a4c50" stroke-width="2.5" fill="none"/>
<path d="M462,300 Q480,330 485,370" stroke="#3a3c40" stroke-width="2" fill="none"/>
<path d="M232,183 Q280,176 330,186 Q345,190 355,196" stroke="#2a2d30" stroke-width="2.8" fill="none"/>
<!-- collar -->
<ellipse cx="333" cy="245" rx="64" ry="30" transform="rotate(-43 333 245)" fill="#121315"/>
<ellipse cx="335" cy="240" rx="50" ry="17" transform="rotate(-43 335 240)" fill="none" stroke="#3e4144" stroke-width="3"/>
<path d="M296,252 Q320,225 345,200 L356,206 Q330,235 305,262 Z" fill="#2a2d30" opacity="0.8"/>
<path d="M308,252 Q326,226 347,207" stroke="#d8dadc" stroke-width="2" fill="none" opacity="0.85"/>
<!-- yellow knob -->
<path d="M376.6,361 Q383,345 393.25,336 Q405,326 419.4,320.6 Q430,318 443,318 Q462,320 478.75,326.5 Q494,340 500,355 Q501,362 499,367 Q492,376 484.7,384.7 Q476,394 467,402.5 Q455,410 440.75,416.75 Q425,422 410,426 Q404,428 399,428.6 Q393,420 389.7,408.5 Q381,392 377.8,378.75 Q375,368 376.6,361 Z" fill="url(#knobG)"/>
<path d="M393,338 Q420,330 445,332 Q470,338 490,360" stroke="#d9a000" stroke-width="3" fill="none" opacity="0.6"/>
<ellipse cx="446.7" cy="394.2" rx="11.5" ry="10" fill="#e89400"/>
<ellipse cx="448" cy="395" rx="8" ry="7" fill="#f2a818"/>
<path d="M389,388 Q386,370 395,355" stroke="#f5d878" stroke-width="1.5" fill="none"/>
<text x="0" y="0" font-size="9" fill="#f7dd80" transform="translate(404,360) rotate(-55)" font-family="Liberation Sans" font-weight="bold">ON</text>
<path d="M428,336 L446,333" stroke="#f5d878" stroke-width="1.5"/>
</g>

</svg></body></html>
